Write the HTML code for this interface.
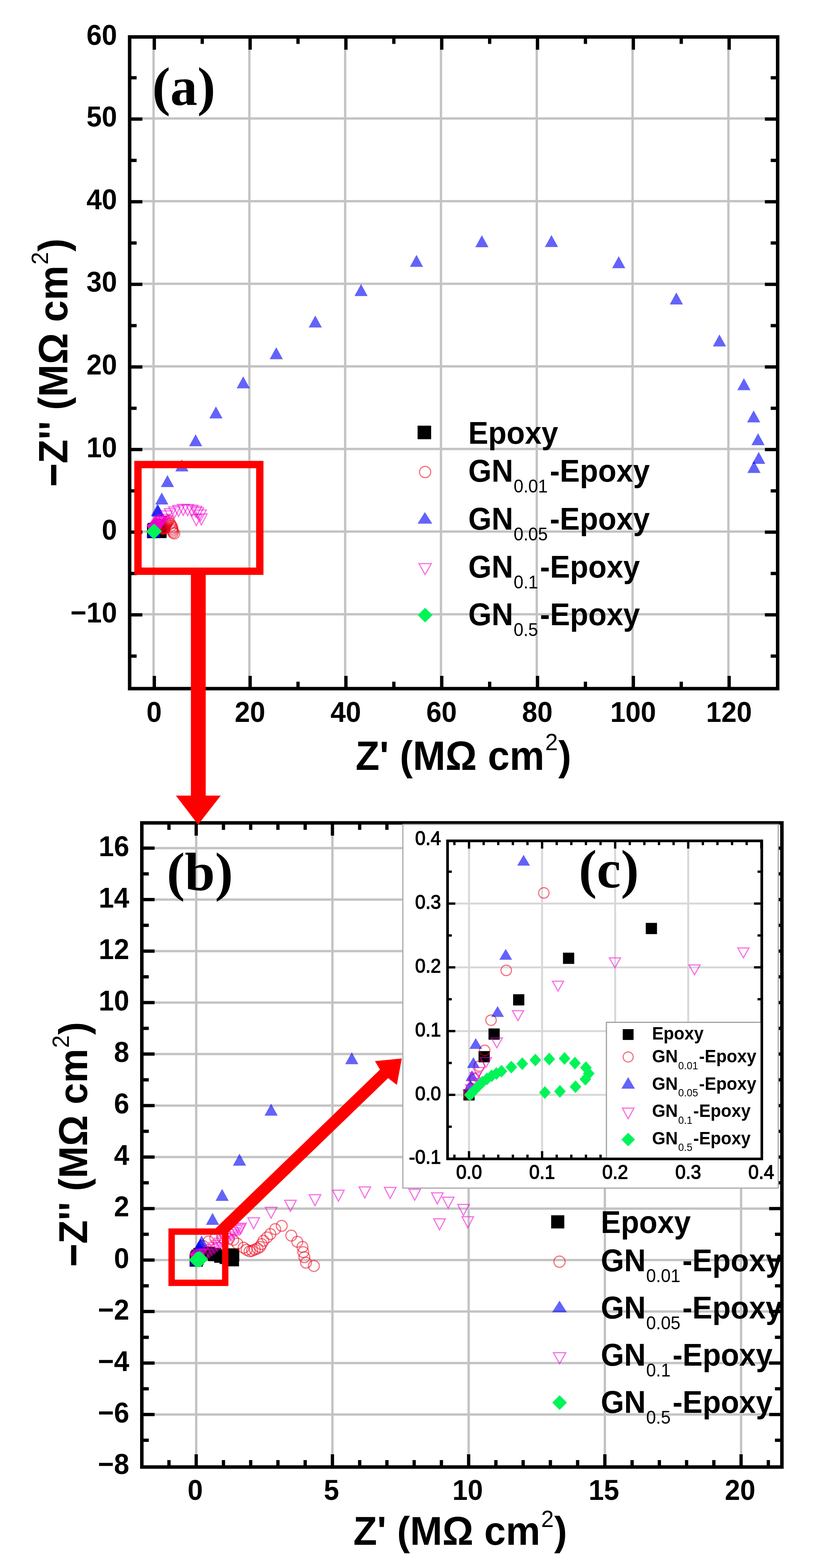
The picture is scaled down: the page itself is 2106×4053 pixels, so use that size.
<!DOCTYPE html><html><head><meta charset="utf-8"><style>html,body{margin:0;padding:0;background:#fff;}svg{display:block}</style></head><body>
<svg width="2106" height="4053" viewBox="0 0 2106 4053" font-family="'Liberation Sans', Arial, sans-serif" font-weight="bold">
<rect width="100%" height="100%" fill="#fff"/>
<defs><clipPath id="ca"><rect x="335" y="95.5" width="1674.5" height="1684.5"/></clipPath>
<clipPath id="cb"><rect x="366.5" y="2127" width="1654.0" height="1665"/></clipPath>
<clipPath id="cbl"><rect x="366.5" y="2127" width="1650.0" height="1665"/></clipPath>
<clipPath id="cbx"><rect x="366.5" y="2127" width="673.0" height="1665"/><rect x="1039.5" y="3069.5" width="981.0" height="722.5"/><rect x="2012.5" y="2127" width="8.0" height="942.5"/></clipPath>
<clipPath id="cc"><rect x="1156.5" y="2173.5" width="812.0" height="822.0"/></clipPath></defs>
<line x1="396.8" y1="95.5" x2="396.8" y2="1780" stroke="#c3c3c3" stroke-width="6"/>
<line x1="644.4" y1="95.5" x2="644.4" y2="1780" stroke="#c3c3c3" stroke-width="6"/>
<line x1="891.9" y1="95.5" x2="891.9" y2="1780" stroke="#c3c3c3" stroke-width="6"/>
<line x1="1139.5" y1="95.5" x2="1139.5" y2="1780" stroke="#c3c3c3" stroke-width="6"/>
<line x1="1387.0" y1="95.5" x2="1387.0" y2="1780" stroke="#c3c3c3" stroke-width="6"/>
<line x1="1634.6" y1="95.5" x2="1634.6" y2="1780" stroke="#c3c3c3" stroke-width="6"/>
<line x1="1882.2" y1="95.5" x2="1882.2" y2="1780" stroke="#c3c3c3" stroke-width="6"/>
<line x1="335" y1="1587.7" x2="2009.5" y2="1587.7" stroke="#c3c3c3" stroke-width="6"/>
<line x1="335" y1="1374.1" x2="2009.5" y2="1374.1" stroke="#c3c3c3" stroke-width="6"/>
<line x1="335" y1="1160.5" x2="2009.5" y2="1160.5" stroke="#c3c3c3" stroke-width="6"/>
<line x1="335" y1="947.0" x2="2009.5" y2="947.0" stroke="#c3c3c3" stroke-width="6"/>
<line x1="335" y1="733.4" x2="2009.5" y2="733.4" stroke="#c3c3c3" stroke-width="6"/>
<line x1="335" y1="519.9" x2="2009.5" y2="519.9" stroke="#c3c3c3" stroke-width="6"/>
<line x1="335" y1="306.3" x2="2009.5" y2="306.3" stroke="#c3c3c3" stroke-width="6"/>
<g clip-path="url(#ca)">
<rect x="379.8" y="1357.1" width="34.0" height="34.0" fill="#000"/>
<rect x="380.1" y="1355.8" width="34.0" height="34.0" fill="#000"/>
<rect x="380.2" y="1355.1" width="34.0" height="34.0" fill="#000"/>
<rect x="380.6" y="1353.9" width="34.0" height="34.0" fill="#000"/>
<rect x="381.5" y="1352.5" width="34.0" height="34.0" fill="#000"/>
<rect x="382.9" y="1351.5" width="34.0" height="34.0" fill="#000"/>
<rect x="385.4" y="1351.8" width="34.0" height="34.0" fill="#000"/>
<rect x="388.2" y="1352.6" width="34.0" height="34.0" fill="#000"/>
<rect x="390.9" y="1353.9" width="34.0" height="34.0" fill="#000"/>
<rect x="393.4" y="1355.0" width="34.0" height="34.0" fill="#000"/>
<rect x="395.5" y="1356.0" width="34.0" height="34.0" fill="#000"/>
<rect x="396.3" y="1356.9" width="34.0" height="34.0" fill="#000"/>
<rect x="396.4" y="1352.8" width="34.0" height="34.0" fill="#000"/>
<circle cx="396.8" cy="1374.1" r="14.0" fill="none" stroke="rgba(235,0,25,0.55)" stroke-width="3.0"/>
<circle cx="396.8" cy="1373.9" r="14.0" fill="none" stroke="rgba(235,0,25,0.55)" stroke-width="3.0"/>
<circle cx="396.9" cy="1373.6" r="14.0" fill="none" stroke="rgba(235,0,25,0.55)" stroke-width="3.0"/>
<circle cx="397.0" cy="1373.1" r="14.0" fill="none" stroke="rgba(235,0,25,0.55)" stroke-width="3.0"/>
<circle cx="397.1" cy="1372.6" r="14.0" fill="none" stroke="rgba(235,0,25,0.55)" stroke-width="3.0"/>
<circle cx="397.2" cy="1371.6" r="14.0" fill="none" stroke="rgba(235,0,25,0.55)" stroke-width="3.0"/>
<circle cx="397.4" cy="1369.9" r="14.0" fill="none" stroke="rgba(235,0,25,0.55)" stroke-width="3.0"/>
<circle cx="398.1" cy="1367.3" r="14.0" fill="none" stroke="rgba(235,0,25,0.55)" stroke-width="3.0"/>
<circle cx="399.9" cy="1362.4" r="14.0" fill="none" stroke="rgba(235,0,25,0.55)" stroke-width="3.0"/>
<circle cx="402.4" cy="1358.7" r="14.0" fill="none" stroke="rgba(235,0,25,0.55)" stroke-width="3.0"/>
<circle cx="405.5" cy="1355.9" r="14.0" fill="none" stroke="rgba(235,0,25,0.55)" stroke-width="3.0"/>
<circle cx="408.6" cy="1355.3" r="14.0" fill="none" stroke="rgba(235,0,25,0.55)" stroke-width="3.0"/>
<circle cx="411.7" cy="1356.4" r="14.0" fill="none" stroke="rgba(235,0,25,0.55)" stroke-width="3.0"/>
<circle cx="413.6" cy="1357.4" r="14.0" fill="none" stroke="rgba(235,0,25,0.55)" stroke-width="3.0"/>
<circle cx="415.5" cy="1360.4" r="14.0" fill="none" stroke="rgba(235,0,25,0.55)" stroke-width="3.0"/>
<circle cx="418.3" cy="1363.8" r="14.0" fill="none" stroke="rgba(235,0,25,0.55)" stroke-width="3.0"/>
<circle cx="419.7" cy="1365.6" r="14.0" fill="none" stroke="rgba(235,0,25,0.55)" stroke-width="3.0"/>
<circle cx="421.1" cy="1366.8" r="14.0" fill="none" stroke="rgba(235,0,25,0.55)" stroke-width="3.0"/>
<circle cx="422.2" cy="1366.4" r="14.0" fill="none" stroke="rgba(235,0,25,0.55)" stroke-width="3.0"/>
<circle cx="423.4" cy="1365.3" r="14.0" fill="none" stroke="rgba(235,0,25,0.55)" stroke-width="3.0"/>
<circle cx="424.7" cy="1364.5" r="14.0" fill="none" stroke="rgba(235,0,25,0.55)" stroke-width="3.0"/>
<circle cx="425.8" cy="1363.2" r="14.0" fill="none" stroke="rgba(235,0,25,0.55)" stroke-width="3.0"/>
<circle cx="426.5" cy="1360.9" r="14.0" fill="none" stroke="rgba(235,0,25,0.55)" stroke-width="3.0"/>
<circle cx="427.4" cy="1358.1" r="14.0" fill="none" stroke="rgba(235,0,25,0.55)" stroke-width="3.0"/>
<circle cx="429.0" cy="1355.3" r="14.0" fill="none" stroke="rgba(235,0,25,0.55)" stroke-width="3.0"/>
<circle cx="430.5" cy="1352.5" r="14.0" fill="none" stroke="rgba(235,0,25,0.55)" stroke-width="3.0"/>
<circle cx="432.7" cy="1348.5" r="14.0" fill="none" stroke="rgba(235,0,25,0.55)" stroke-width="3.0"/>
<circle cx="435.7" cy="1345.7" r="14.0" fill="none" stroke="rgba(235,0,25,0.55)" stroke-width="3.0"/>
<circle cx="440.0" cy="1353.8" r="14.0" fill="none" stroke="rgba(235,0,25,0.55)" stroke-width="3.0"/>
<circle cx="442.7" cy="1358.9" r="14.0" fill="none" stroke="rgba(235,0,25,0.55)" stroke-width="3.0"/>
<circle cx="445.1" cy="1363.2" r="14.0" fill="none" stroke="rgba(235,0,25,0.55)" stroke-width="3.0"/>
<circle cx="445.4" cy="1367.5" r="14.0" fill="none" stroke="rgba(235,0,25,0.55)" stroke-width="3.0"/>
<circle cx="445.9" cy="1371.8" r="14.0" fill="none" stroke="rgba(235,0,25,0.55)" stroke-width="3.0"/>
<circle cx="446.7" cy="1376.2" r="14.0" fill="none" stroke="rgba(235,0,25,0.55)" stroke-width="3.0"/>
<circle cx="450.3" cy="1379.0" r="14.0" fill="none" stroke="rgba(235,0,25,0.55)" stroke-width="3.0"/>
<path d="M396.8 1358.3L413.8 1389.3L379.8 1389.3Z" fill="rgba(0,0,245,0.61)"/>
<path d="M396.8 1358.0L413.8 1389.0L379.8 1389.0Z" fill="rgba(0,0,245,0.61)"/>
<path d="M396.9 1357.5L413.9 1388.5L379.9 1388.5Z" fill="rgba(0,0,245,0.61)"/>
<path d="M396.9 1356.9L413.9 1387.9L379.9 1387.9Z" fill="rgba(0,0,245,0.61)"/>
<path d="M397.3 1355.8L414.3 1386.8L380.3 1386.8Z" fill="rgba(0,0,245,0.61)"/>
<path d="M397.4 1353.9L414.4 1384.9L380.4 1384.9Z" fill="rgba(0,0,245,0.61)"/>
<path d="M397.7 1350.7L414.7 1381.7L380.7 1381.7Z" fill="rgba(0,0,245,0.61)"/>
<path d="M398.0 1347.9L415.0 1378.9L381.0 1378.9Z" fill="rgba(0,0,245,0.61)"/>
<path d="M398.7 1345.8L415.7 1376.8L381.7 1376.8Z" fill="rgba(0,0,245,0.61)"/>
<path d="M399.3 1343.2L416.3 1374.2L382.3 1374.2Z" fill="rgba(0,0,245,0.61)"/>
<path d="M406.9 1302.4L423.9 1333.4L389.9 1333.4Z" fill="rgba(0,0,245,0.61)"/>
<path d="M408.6 1304.6L425.6 1335.6L391.6 1335.6Z" fill="rgba(0,0,245,0.61)"/>
<path d="M418.0 1273.0L435.0 1304.0L401.0 1304.0Z" fill="rgba(0,0,245,0.61)"/>
<path d="M432.7 1228.1L449.7 1259.1L415.7 1259.1Z" fill="rgba(0,0,245,0.61)"/>
<path d="M470.0 1187.5L487.0 1218.5L453.0 1218.5Z" fill="rgba(0,0,245,0.61)"/>
<path d="M505.5 1122.6L522.5 1153.6L488.5 1153.6Z" fill="rgba(0,0,245,0.61)"/>
<path d="M558.0 1050.6L575.0 1081.6L541.0 1081.6Z" fill="rgba(0,0,245,0.61)"/>
<path d="M628.5 972.7L645.5 1003.7L611.5 1003.7Z" fill="rgba(0,0,245,0.61)"/>
<path d="M713.9 897.5L730.9 928.5L696.9 928.5Z" fill="rgba(0,0,245,0.61)"/>
<path d="M814.7 815.5L831.7 846.5L797.7 846.5Z" fill="rgba(0,0,245,0.61)"/>
<path d="M933.0 734.2L950.0 765.2L916.0 765.2Z" fill="rgba(0,0,245,0.61)"/>
<path d="M1076.2 658.8L1093.2 689.8L1059.2 689.8Z" fill="rgba(0,0,245,0.61)"/>
<path d="M1245.2 607.9L1262.2 638.9L1228.2 638.9Z" fill="rgba(0,0,245,0.61)"/>
<path d="M1425.0 607.5L1442.0 638.5L1408.0 638.5Z" fill="rgba(0,0,245,0.61)"/>
<path d="M1598.8 662.2L1615.8 693.2L1581.8 693.2Z" fill="rgba(0,0,245,0.61)"/>
<path d="M1747.7 755.9L1764.7 786.9L1730.7 786.9Z" fill="rgba(0,0,245,0.61)"/>
<path d="M1859.1 864.4L1876.1 895.4L1842.1 895.4Z" fill="rgba(0,0,245,0.61)"/>
<path d="M1922.3 977.4L1939.3 1008.4L1905.3 1008.4Z" fill="rgba(0,0,245,0.61)"/>
<path d="M1947.5 1060.7L1964.5 1091.7L1930.5 1091.7Z" fill="rgba(0,0,245,0.61)"/>
<path d="M1958.8 1119.8L1975.8 1150.8L1941.8 1150.8Z" fill="rgba(0,0,245,0.61)"/>
<path d="M1960.6 1168.1L1977.6 1199.1L1943.6 1199.1Z" fill="rgba(0,0,245,0.61)"/>
<path d="M1948.3 1191.6L1965.3 1222.6L1931.3 1222.6Z" fill="rgba(0,0,245,0.61)"/>
<path d="M381.9 1359.8L411.8 1359.8L396.8 1388.3Z" fill="none" stroke="rgba(240,0,210,0.55)" stroke-width="3.0" stroke-linejoin="miter"/>
<path d="M381.9 1359.7L411.8 1359.7L396.8 1388.2Z" fill="none" stroke="rgba(240,0,210,0.55)" stroke-width="3.0" stroke-linejoin="miter"/>
<path d="M381.9 1359.5L411.8 1359.5L396.9 1388.0Z" fill="none" stroke="rgba(240,0,210,0.55)" stroke-width="3.0" stroke-linejoin="miter"/>
<path d="M382.0 1359.3L411.9 1359.3L396.9 1387.8Z" fill="none" stroke="rgba(240,0,210,0.55)" stroke-width="3.0" stroke-linejoin="miter"/>
<path d="M382.0 1359.1L411.9 1359.1L397.0 1387.6Z" fill="none" stroke="rgba(240,0,210,0.55)" stroke-width="3.0" stroke-linejoin="miter"/>
<path d="M382.1 1358.8L412.0 1358.8L397.1 1387.3Z" fill="none" stroke="rgba(240,0,210,0.55)" stroke-width="3.0" stroke-linejoin="miter"/>
<path d="M382.3 1358.1L412.2 1358.1L397.3 1386.6Z" fill="none" stroke="rgba(240,0,210,0.55)" stroke-width="3.0" stroke-linejoin="miter"/>
<path d="M382.7 1357.2L412.6 1357.2L397.6 1385.7Z" fill="none" stroke="rgba(240,0,210,0.55)" stroke-width="3.0" stroke-linejoin="miter"/>
<path d="M383.4 1356.2L413.3 1356.2L398.3 1384.7Z" fill="none" stroke="rgba(240,0,210,0.55)" stroke-width="3.0" stroke-linejoin="miter"/>
<path d="M384.3 1355.4L414.2 1355.4L399.3 1383.9Z" fill="none" stroke="rgba(240,0,210,0.55)" stroke-width="3.0" stroke-linejoin="miter"/>
<path d="M385.7 1355.7L415.6 1355.7L400.6 1384.2Z" fill="none" stroke="rgba(240,0,210,0.55)" stroke-width="3.0" stroke-linejoin="miter"/>
<path d="M386.5 1355.1L416.4 1355.1L401.4 1383.6Z" fill="none" stroke="rgba(240,0,210,0.55)" stroke-width="3.0" stroke-linejoin="miter"/>
<path d="M387.7 1353.3L417.6 1353.3L402.7 1381.8Z" fill="none" stroke="rgba(240,0,210,0.55)" stroke-width="3.0" stroke-linejoin="miter"/>
<path d="M389.0 1351.6L418.9 1351.6L403.9 1380.1Z" fill="none" stroke="rgba(240,0,210,0.55)" stroke-width="3.0" stroke-linejoin="miter"/>
<path d="M390.2 1349.8L420.1 1349.8L405.2 1378.3Z" fill="none" stroke="rgba(240,0,210,0.55)" stroke-width="3.0" stroke-linejoin="miter"/>
<path d="M391.4 1348.1L421.3 1348.1L406.4 1376.6Z" fill="none" stroke="rgba(240,0,210,0.55)" stroke-width="3.0" stroke-linejoin="miter"/>
<path d="M392.7 1346.3L422.6 1346.3L407.6 1374.8Z" fill="none" stroke="rgba(240,0,210,0.55)" stroke-width="3.0" stroke-linejoin="miter"/>
<path d="M393.9 1344.6L423.8 1344.6L408.9 1373.1Z" fill="none" stroke="rgba(240,0,210,0.55)" stroke-width="3.0" stroke-linejoin="miter"/>
<path d="M395.2 1342.8L425.1 1342.8L410.1 1371.3Z" fill="none" stroke="rgba(240,0,210,0.55)" stroke-width="3.0" stroke-linejoin="miter"/>
<path d="M396.4 1341.1L426.3 1341.1L411.4 1369.6Z" fill="none" stroke="rgba(240,0,210,0.55)" stroke-width="3.0" stroke-linejoin="miter"/>
<path d="M397.6 1339.3L427.5 1339.3L412.6 1367.8Z" fill="none" stroke="rgba(240,0,210,0.55)" stroke-width="3.0" stroke-linejoin="miter"/>
<path d="M398.9 1337.6L428.8 1337.6L413.8 1366.1Z" fill="none" stroke="rgba(240,0,210,0.55)" stroke-width="3.0" stroke-linejoin="miter"/>
<path d="M400.1 1335.8L430.0 1335.8L415.1 1364.3Z" fill="none" stroke="rgba(240,0,210,0.55)" stroke-width="3.0" stroke-linejoin="miter"/>
<path d="M401.4 1334.8L431.3 1334.8L416.3 1363.3Z" fill="none" stroke="rgba(240,0,210,0.55)" stroke-width="3.0" stroke-linejoin="miter"/>
<path d="M402.0 1333.9L431.9 1333.9L417.0 1362.4Z" fill="none" stroke="rgba(240,0,210,0.55)" stroke-width="3.0" stroke-linejoin="miter"/>
<path d="M408.0 1329.4L437.9 1329.4L422.9 1357.9Z" fill="none" stroke="rgba(240,0,210,0.55)" stroke-width="3.0" stroke-linejoin="miter"/>
<path d="M415.9 1320.6L445.8 1320.6L430.8 1349.1Z" fill="none" stroke="rgba(240,0,210,0.55)" stroke-width="3.0" stroke-linejoin="miter"/>
<path d="M424.7 1314.9L454.6 1314.9L439.6 1343.4Z" fill="none" stroke="rgba(240,0,210,0.55)" stroke-width="3.0" stroke-linejoin="miter"/>
<path d="M435.8 1310.2L465.7 1310.2L450.8 1338.7Z" fill="none" stroke="rgba(240,0,210,0.55)" stroke-width="3.0" stroke-linejoin="miter"/>
<path d="M446.5 1306.5L476.4 1306.5L461.4 1335.0Z" fill="none" stroke="rgba(240,0,210,0.55)" stroke-width="3.0" stroke-linejoin="miter"/>
<path d="M458.5 1303.7L488.4 1303.7L473.4 1332.2Z" fill="none" stroke="rgba(240,0,210,0.55)" stroke-width="3.0" stroke-linejoin="miter"/>
<path d="M470.0 1304.2L499.9 1304.2L484.9 1332.7Z" fill="none" stroke="rgba(240,0,210,0.55)" stroke-width="3.0" stroke-linejoin="miter"/>
<path d="M481.1 1305.7L511.0 1305.7L496.1 1334.2Z" fill="none" stroke="rgba(240,0,210,0.55)" stroke-width="3.0" stroke-linejoin="miter"/>
<path d="M491.4 1308.7L521.3 1308.7L506.3 1337.2Z" fill="none" stroke="rgba(240,0,210,0.55)" stroke-width="3.0" stroke-linejoin="miter"/>
<path d="M496.3 1312.3L526.2 1312.3L511.3 1340.8Z" fill="none" stroke="rgba(240,0,210,0.55)" stroke-width="3.0" stroke-linejoin="miter"/>
<path d="M503.3 1318.3L533.2 1318.3L518.2 1346.8Z" fill="none" stroke="rgba(240,0,210,0.55)" stroke-width="3.0" stroke-linejoin="miter"/>
<path d="M505.3 1328.5L535.2 1328.5L520.2 1357.0Z" fill="none" stroke="rgba(240,0,210,0.55)" stroke-width="3.0" stroke-linejoin="miter"/>
<path d="M492.4 1330.2L522.3 1330.2L507.3 1358.7Z" fill="none" stroke="rgba(240,0,210,0.55)" stroke-width="3.0" stroke-linejoin="miter"/>
<path d="M396.8 1355.1L415.8 1374.1L396.8 1393.1L377.8 1374.1Z" fill="#00f458"/>
<path d="M396.8 1355.0L415.8 1374.0L396.8 1393.0L377.8 1374.0Z" fill="#00f458"/>
<path d="M396.9 1354.9L415.9 1373.9L396.9 1392.9L377.9 1373.9Z" fill="#00f458"/>
<path d="M397.0 1354.8L416.0 1373.8L397.0 1392.8L378.0 1373.8Z" fill="#00f458"/>
<path d="M397.0 1354.7L416.0 1373.7L397.0 1392.7L378.0 1373.7Z" fill="#00f458"/>
<path d="M397.1 1354.6L416.1 1373.6L397.1 1392.6L378.1 1373.6Z" fill="#00f458"/>
<path d="M397.2 1354.5L416.2 1373.5L397.2 1392.5L378.2 1373.5Z" fill="#00f458"/>
<path d="M397.3 1354.4L416.3 1373.4L397.3 1392.4L378.3 1373.4Z" fill="#00f458"/>
<path d="M397.3 1354.3L416.3 1373.3L397.3 1392.3L378.3 1373.3Z" fill="#00f458"/>
<path d="M397.5 1354.2L416.5 1373.2L397.5 1392.2L378.5 1373.2Z" fill="#00f458"/>
<path d="M397.7 1354.1L416.7 1373.1L397.7 1392.1L378.7 1373.1Z" fill="#00f458"/>
<path d="M397.9 1353.9L416.9 1372.9L397.9 1391.9L378.9 1372.9Z" fill="#00f458"/>
<path d="M398.2 1353.9L417.2 1372.9L398.2 1391.9L379.2 1372.9Z" fill="#00f458"/>
<path d="M398.4 1353.9L417.4 1372.9L398.4 1391.9L379.4 1372.9Z" fill="#00f458"/>
<path d="M398.6 1354.0L417.6 1373.0L398.6 1392.0L379.6 1373.0Z" fill="#00f458"/>
<path d="M398.8 1354.2L417.8 1373.2L398.8 1392.2L379.8 1373.2Z" fill="#00f458"/>
<path d="M398.8 1354.4L417.8 1373.4L398.8 1392.4L379.8 1373.4Z" fill="#00f458"/>
<path d="M398.8 1354.6L417.8 1373.6L398.8 1392.6L379.8 1373.6Z" fill="#00f458"/>
<path d="M398.6 1354.8L417.6 1373.8L398.6 1392.8L379.6 1373.8Z" fill="#00f458"/>
<path d="M398.3 1355.0L417.3 1374.0L398.3 1393.0L379.3 1374.0Z" fill="#00f458"/>
<path d="M398.1 1355.0L417.1 1374.0L398.1 1393.0L379.1 1374.0Z" fill="#00f458"/>
</g>
<line x1="398.8" y1="1780" x2="398.8" y2="1747" stroke="#000" stroke-width="8.5"/>
<line x1="398.8" y1="95.5" x2="398.8" y2="128.5" stroke="#000" stroke-width="8.5"/>
<line x1="522.6" y1="1780" x2="522.6" y2="1762" stroke="#000" stroke-width="8.5"/>
<line x1="522.6" y1="95.5" x2="522.6" y2="113.5" stroke="#000" stroke-width="8.5"/>
<line x1="646.4" y1="1780" x2="646.4" y2="1747" stroke="#000" stroke-width="8.5"/>
<line x1="646.4" y1="95.5" x2="646.4" y2="128.5" stroke="#000" stroke-width="8.5"/>
<line x1="770.1" y1="1780" x2="770.1" y2="1762" stroke="#000" stroke-width="8.5"/>
<line x1="770.1" y1="95.5" x2="770.1" y2="113.5" stroke="#000" stroke-width="8.5"/>
<line x1="893.9" y1="1780" x2="893.9" y2="1747" stroke="#000" stroke-width="8.5"/>
<line x1="893.9" y1="95.5" x2="893.9" y2="128.5" stroke="#000" stroke-width="8.5"/>
<line x1="1017.7" y1="1780" x2="1017.7" y2="1762" stroke="#000" stroke-width="8.5"/>
<line x1="1017.7" y1="95.5" x2="1017.7" y2="113.5" stroke="#000" stroke-width="8.5"/>
<line x1="1141.5" y1="1780" x2="1141.5" y2="1747" stroke="#000" stroke-width="8.5"/>
<line x1="1141.5" y1="95.5" x2="1141.5" y2="128.5" stroke="#000" stroke-width="8.5"/>
<line x1="1265.3" y1="1780" x2="1265.3" y2="1762" stroke="#000" stroke-width="8.5"/>
<line x1="1265.3" y1="95.5" x2="1265.3" y2="113.5" stroke="#000" stroke-width="8.5"/>
<line x1="1389.0" y1="1780" x2="1389.0" y2="1747" stroke="#000" stroke-width="8.5"/>
<line x1="1389.0" y1="95.5" x2="1389.0" y2="128.5" stroke="#000" stroke-width="8.5"/>
<line x1="1512.8" y1="1780" x2="1512.8" y2="1762" stroke="#000" stroke-width="8.5"/>
<line x1="1512.8" y1="95.5" x2="1512.8" y2="113.5" stroke="#000" stroke-width="8.5"/>
<line x1="1636.6" y1="1780" x2="1636.6" y2="1747" stroke="#000" stroke-width="8.5"/>
<line x1="1636.6" y1="95.5" x2="1636.6" y2="128.5" stroke="#000" stroke-width="8.5"/>
<line x1="1760.4" y1="1780" x2="1760.4" y2="1762" stroke="#000" stroke-width="8.5"/>
<line x1="1760.4" y1="95.5" x2="1760.4" y2="113.5" stroke="#000" stroke-width="8.5"/>
<line x1="1884.2" y1="1780" x2="1884.2" y2="1747" stroke="#000" stroke-width="8.5"/>
<line x1="1884.2" y1="95.5" x2="1884.2" y2="128.5" stroke="#000" stroke-width="8.5"/>
<line x1="335" y1="1695.9" x2="353" y2="1695.9" stroke="#000" stroke-width="8.5"/>
<line x1="2009.5" y1="1695.9" x2="1991.5" y2="1695.9" stroke="#000" stroke-width="8.5"/>
<line x1="335" y1="1589.2" x2="368" y2="1589.2" stroke="#000" stroke-width="8.5"/>
<line x1="2009.5" y1="1589.2" x2="1976.5" y2="1589.2" stroke="#000" stroke-width="8.5"/>
<line x1="335" y1="1482.4" x2="353" y2="1482.4" stroke="#000" stroke-width="8.5"/>
<line x1="2009.5" y1="1482.4" x2="1991.5" y2="1482.4" stroke="#000" stroke-width="8.5"/>
<line x1="335" y1="1375.6" x2="368" y2="1375.6" stroke="#000" stroke-width="8.5"/>
<line x1="2009.5" y1="1375.6" x2="1976.5" y2="1375.6" stroke="#000" stroke-width="8.5"/>
<line x1="335" y1="1268.8" x2="353" y2="1268.8" stroke="#000" stroke-width="8.5"/>
<line x1="2009.5" y1="1268.8" x2="1991.5" y2="1268.8" stroke="#000" stroke-width="8.5"/>
<line x1="335" y1="1162.0" x2="368" y2="1162.0" stroke="#000" stroke-width="8.5"/>
<line x1="2009.5" y1="1162.0" x2="1976.5" y2="1162.0" stroke="#000" stroke-width="8.5"/>
<line x1="335" y1="1055.3" x2="353" y2="1055.3" stroke="#000" stroke-width="8.5"/>
<line x1="2009.5" y1="1055.3" x2="1991.5" y2="1055.3" stroke="#000" stroke-width="8.5"/>
<line x1="335" y1="948.5" x2="368" y2="948.5" stroke="#000" stroke-width="8.5"/>
<line x1="2009.5" y1="948.5" x2="1976.5" y2="948.5" stroke="#000" stroke-width="8.5"/>
<line x1="335" y1="841.7" x2="353" y2="841.7" stroke="#000" stroke-width="8.5"/>
<line x1="2009.5" y1="841.7" x2="1991.5" y2="841.7" stroke="#000" stroke-width="8.5"/>
<line x1="335" y1="734.9" x2="368" y2="734.9" stroke="#000" stroke-width="8.5"/>
<line x1="2009.5" y1="734.9" x2="1976.5" y2="734.9" stroke="#000" stroke-width="8.5"/>
<line x1="335" y1="628.1" x2="353" y2="628.1" stroke="#000" stroke-width="8.5"/>
<line x1="2009.5" y1="628.1" x2="1991.5" y2="628.1" stroke="#000" stroke-width="8.5"/>
<line x1="335" y1="521.4" x2="368" y2="521.4" stroke="#000" stroke-width="8.5"/>
<line x1="2009.5" y1="521.4" x2="1976.5" y2="521.4" stroke="#000" stroke-width="8.5"/>
<line x1="335" y1="414.6" x2="353" y2="414.6" stroke="#000" stroke-width="8.5"/>
<line x1="2009.5" y1="414.6" x2="1991.5" y2="414.6" stroke="#000" stroke-width="8.5"/>
<line x1="335" y1="307.8" x2="368" y2="307.8" stroke="#000" stroke-width="8.5"/>
<line x1="2009.5" y1="307.8" x2="1976.5" y2="307.8" stroke="#000" stroke-width="8.5"/>
<line x1="335" y1="201.0" x2="353" y2="201.0" stroke="#000" stroke-width="8.5"/>
<line x1="2009.5" y1="201.0" x2="1991.5" y2="201.0" stroke="#000" stroke-width="8.5"/>
<rect x="335" y="95.5" width="1674.5" height="1684.5" fill="none" stroke="#000" stroke-width="9"/>
<text transform="translate(398.3 1866.0) scale(1 1.0407)" font-size="71" text-anchor="middle">0</text>
<text transform="translate(645.9 1866.0) scale(1 1.0407)" font-size="71" text-anchor="middle">20</text>
<text transform="translate(893.4 1866.0) scale(1 1.0407)" font-size="71" text-anchor="middle">40</text>
<text transform="translate(1141.0 1866.0) scale(1 1.0407)" font-size="71" text-anchor="middle">60</text>
<text transform="translate(1388.5 1866.0) scale(1 1.0407)" font-size="71" text-anchor="middle">80</text>
<text transform="translate(1636.1 1866.0) scale(1 1.0407)" font-size="71" text-anchor="middle">100</text>
<text transform="translate(1883.7 1866.0) scale(1 1.0407)" font-size="71" text-anchor="middle">120</text>
<text transform="translate(302.5 1608.7) scale(1 1.0407)" font-size="71" text-anchor="end">−10</text>
<text transform="translate(302.5 1395.1) scale(1 1.0407)" font-size="71" text-anchor="end">0</text>
<text transform="translate(302.5 1181.5) scale(1 1.0407)" font-size="71" text-anchor="end">10</text>
<text transform="translate(302.5 968.0) scale(1 1.0407)" font-size="71" text-anchor="end">20</text>
<text transform="translate(302.5 754.4) scale(1 1.0407)" font-size="71" text-anchor="end">30</text>
<text transform="translate(302.5 540.9) scale(1 1.0407)" font-size="71" text-anchor="end">40</text>
<text transform="translate(302.5 327.3) scale(1 1.0407)" font-size="71" text-anchor="end">50</text>
<text transform="translate(302.5 115.5) scale(1 1.0407)" font-size="71" text-anchor="end">60</text>
<text transform="translate(1197.6 1990.0) scale(1 1.0407)" font-size="101.3" text-anchor="middle">Z' (MΩ cm<tspan font-size="59" font-weight="normal" dy="-49" dx="2">2</tspan><tspan dy="49" dx="1">)</tspan></text>
<text transform="translate(174.0 936.9) rotate(-90) scale(1 1.0407)" font-size="101.3" text-anchor="middle"><tspan stroke="#000" stroke-width="2">−</tspan>Z'' (MΩ cm<tspan font-size="59" font-weight="normal" dy="-48" dx="2">2</tspan><tspan dy="48" dx="1">)</tspan></text>
<text x="393.5" y="271" font-family="'Liberation Serif', 'Times New Roman', serif" font-size="140">(a)</text>
<rect x="1079.1" y="1100.3" width="35.0" height="35.0" fill="#000"/>
<text transform="translate(1209.9 1147.0) scale(1 1.0407)" font-size="77.5">Epoxy</text>
<circle cx="1098.5" cy="1220.1" r="14.5" fill="none" stroke="rgba(235,0,25,0.55)" stroke-width="3.0"/>
<text transform="translate(1209.9 1245.0) scale(1 1.0407)" font-size="77.5">GN<tspan font-size="45.5" font-weight="normal" dy="27.29" dx="1">0.01</tspan><tspan dy="-27.29" dx="5">-Epoxy</tspan></text>
<path d="M1098.0 1323.4L1117.0 1353.4L1079.0 1353.4Z" fill="rgba(0,0,245,0.61)"/>
<text transform="translate(1209.9 1369.0) scale(1 1.0407)" font-size="77.5">GN<tspan font-size="45.5" font-weight="normal" dy="27.29" dx="1">0.05</tspan><tspan dy="-27.29" dx="5">-Epoxy</tspan></text>
<path d="M1082.5 1456.8L1114.5 1456.8L1098.5 1485.2Z" fill="none" stroke="rgba(240,0,210,0.55)" stroke-width="3.0" stroke-linejoin="miter"/>
<text transform="translate(1209.9 1493.0) scale(1 1.0407)" font-size="77.5">GN<tspan font-size="45.5" font-weight="normal" dy="27.29" dx="1">0.1</tspan><tspan dy="-27.29" dx="5">-Epoxy</tspan></text>
<path d="M1098.5 1571.0L1117.5 1590.0L1098.5 1609.0L1079.5 1590.0Z" fill="#00f458"/>
<text transform="translate(1209.9 1616.0) scale(1 1.0407)" font-size="77.5">GN<tspan font-size="45.5" font-weight="normal" dy="27.29" dx="1">0.5</tspan><tspan dy="-27.29" dx="5">-Epoxy</tspan></text>
<line x1="507.0" y1="2127" x2="507.0" y2="3792" stroke="#c3c3c3" stroke-width="6"/>
<line x1="859.0" y1="2127" x2="859.0" y2="3792" stroke="#c3c3c3" stroke-width="6"/>
<line x1="1211.0" y1="2127" x2="1211.0" y2="3792" stroke="#c3c3c3" stroke-width="6"/>
<line x1="1563.0" y1="2127" x2="1563.0" y2="3792" stroke="#c3c3c3" stroke-width="6"/>
<line x1="1915.0" y1="2127" x2="1915.0" y2="3792" stroke="#c3c3c3" stroke-width="6"/>
<line x1="366.5" y1="3656.3" x2="2020.5" y2="3656.3" stroke="#c3c3c3" stroke-width="6"/>
<line x1="366.5" y1="3523.2" x2="2020.5" y2="3523.2" stroke="#c3c3c3" stroke-width="6"/>
<line x1="366.5" y1="3390.1" x2="2020.5" y2="3390.1" stroke="#c3c3c3" stroke-width="6"/>
<line x1="366.5" y1="3257.0" x2="2020.5" y2="3257.0" stroke="#c3c3c3" stroke-width="6"/>
<line x1="366.5" y1="3123.9" x2="2020.5" y2="3123.9" stroke="#c3c3c3" stroke-width="6"/>
<line x1="366.5" y1="2990.8" x2="2020.5" y2="2990.8" stroke="#c3c3c3" stroke-width="6"/>
<line x1="366.5" y1="2857.7" x2="2020.5" y2="2857.7" stroke="#c3c3c3" stroke-width="6"/>
<line x1="366.5" y1="2724.6" x2="2020.5" y2="2724.6" stroke="#c3c3c3" stroke-width="6"/>
<line x1="366.5" y1="2591.5" x2="2020.5" y2="2591.5" stroke="#c3c3c3" stroke-width="6"/>
<line x1="366.5" y1="2458.4" x2="2020.5" y2="2458.4" stroke="#c3c3c3" stroke-width="6"/>
<line x1="366.5" y1="2325.3" x2="2020.5" y2="2325.3" stroke="#c3c3c3" stroke-width="6"/>
<line x1="366.5" y1="2192.2" x2="2020.5" y2="2192.2" stroke="#c3c3c3" stroke-width="6"/>
<g clip-path="url(#cbl)">
<rect x="1424.2" y="3141.3" width="34.0" height="34.0" fill="#000"/>
<text transform="translate(1552.5 3187.0) scale(1 1.0407)" font-size="77.5">Epoxy</text>
<circle cx="1445.8" cy="3261.2" r="14.5" fill="none" stroke="rgba(235,0,25,0.55)" stroke-width="3.0"/>
<text transform="translate(1552.5 3286.0) scale(1 1.0407)" font-size="77.5">GN<tspan font-size="45.5" font-weight="normal" dy="27.29" dx="1">0.01</tspan><tspan dy="-27.29" dx="5">-Epoxy</tspan></text>
<path d="M1445.8 3361.9L1464.8 3391.9L1426.8 3391.9Z" fill="rgba(0,0,245,0.61)"/>
<text transform="translate(1552.5 3408.0) scale(1 1.0407)" font-size="77.5">GN<tspan font-size="45.5" font-weight="normal" dy="27.29" dx="1">0.05</tspan><tspan dy="-27.29" dx="5">-Epoxy</tspan></text>
<path d="M1430.0 3496.4L1462.0 3496.4L1446.0 3524.9Z" fill="none" stroke="rgba(240,0,210,0.55)" stroke-width="3.0" stroke-linejoin="miter"/>
<text transform="translate(1552.5 3530.0) scale(1 1.0407)" font-size="77.5">GN<tspan font-size="45.5" font-weight="normal" dy="27.29" dx="1">0.1</tspan><tspan dy="-27.29" dx="5">-Epoxy</tspan></text>
<path d="M1446.0 3606.4L1465.0 3625.4L1446.0 3644.4L1427.0 3625.4Z" fill="#00f458"/>
<text transform="translate(1552.5 3652.0) scale(1 1.0407)" font-size="77.5">GN<tspan font-size="45.5" font-weight="normal" dy="27.29" dx="1">0.5</tspan><tspan dy="-27.29" dx="5">-Epoxy</tspan></text>
</g>
<line x1="436.6" y1="3792" x2="436.6" y2="3774" stroke="#000" stroke-width="8.5"/>
<line x1="436.6" y1="2127" x2="436.6" y2="2145" stroke="#000" stroke-width="8.5"/>
<line x1="507.0" y1="3792" x2="507.0" y2="3759" stroke="#000" stroke-width="8.5"/>
<line x1="507.0" y1="2127" x2="507.0" y2="2160" stroke="#000" stroke-width="8.5"/>
<line x1="577.4" y1="3792" x2="577.4" y2="3774" stroke="#000" stroke-width="8.5"/>
<line x1="577.4" y1="2127" x2="577.4" y2="2145" stroke="#000" stroke-width="8.5"/>
<line x1="647.8" y1="3792" x2="647.8" y2="3774" stroke="#000" stroke-width="8.5"/>
<line x1="647.8" y1="2127" x2="647.8" y2="2145" stroke="#000" stroke-width="8.5"/>
<line x1="718.2" y1="3792" x2="718.2" y2="3774" stroke="#000" stroke-width="8.5"/>
<line x1="718.2" y1="2127" x2="718.2" y2="2145" stroke="#000" stroke-width="8.5"/>
<line x1="788.6" y1="3792" x2="788.6" y2="3774" stroke="#000" stroke-width="8.5"/>
<line x1="788.6" y1="2127" x2="788.6" y2="2145" stroke="#000" stroke-width="8.5"/>
<line x1="859.0" y1="3792" x2="859.0" y2="3759" stroke="#000" stroke-width="8.5"/>
<line x1="859.0" y1="2127" x2="859.0" y2="2160" stroke="#000" stroke-width="8.5"/>
<line x1="929.4" y1="3792" x2="929.4" y2="3774" stroke="#000" stroke-width="8.5"/>
<line x1="929.4" y1="2127" x2="929.4" y2="2145" stroke="#000" stroke-width="8.5"/>
<line x1="999.8" y1="3792" x2="999.8" y2="3774" stroke="#000" stroke-width="8.5"/>
<line x1="999.8" y1="2127" x2="999.8" y2="2145" stroke="#000" stroke-width="8.5"/>
<line x1="1070.2" y1="3792" x2="1070.2" y2="3774" stroke="#000" stroke-width="8.5"/>
<line x1="1070.2" y1="2127" x2="1070.2" y2="2145" stroke="#000" stroke-width="8.5"/>
<line x1="1140.6" y1="3792" x2="1140.6" y2="3774" stroke="#000" stroke-width="8.5"/>
<line x1="1140.6" y1="2127" x2="1140.6" y2="2145" stroke="#000" stroke-width="8.5"/>
<line x1="1211.0" y1="3792" x2="1211.0" y2="3759" stroke="#000" stroke-width="8.5"/>
<line x1="1211.0" y1="2127" x2="1211.0" y2="2160" stroke="#000" stroke-width="8.5"/>
<line x1="1281.4" y1="3792" x2="1281.4" y2="3774" stroke="#000" stroke-width="8.5"/>
<line x1="1281.4" y1="2127" x2="1281.4" y2="2145" stroke="#000" stroke-width="8.5"/>
<line x1="1351.8" y1="3792" x2="1351.8" y2="3774" stroke="#000" stroke-width="8.5"/>
<line x1="1351.8" y1="2127" x2="1351.8" y2="2145" stroke="#000" stroke-width="8.5"/>
<line x1="1422.2" y1="3792" x2="1422.2" y2="3774" stroke="#000" stroke-width="8.5"/>
<line x1="1422.2" y1="2127" x2="1422.2" y2="2145" stroke="#000" stroke-width="8.5"/>
<line x1="1492.6" y1="3792" x2="1492.6" y2="3774" stroke="#000" stroke-width="8.5"/>
<line x1="1492.6" y1="2127" x2="1492.6" y2="2145" stroke="#000" stroke-width="8.5"/>
<line x1="1563.0" y1="3792" x2="1563.0" y2="3759" stroke="#000" stroke-width="8.5"/>
<line x1="1563.0" y1="2127" x2="1563.0" y2="2160" stroke="#000" stroke-width="8.5"/>
<line x1="1633.4" y1="3792" x2="1633.4" y2="3774" stroke="#000" stroke-width="8.5"/>
<line x1="1633.4" y1="2127" x2="1633.4" y2="2145" stroke="#000" stroke-width="8.5"/>
<line x1="1703.8" y1="3792" x2="1703.8" y2="3774" stroke="#000" stroke-width="8.5"/>
<line x1="1703.8" y1="2127" x2="1703.8" y2="2145" stroke="#000" stroke-width="8.5"/>
<line x1="1774.2" y1="3792" x2="1774.2" y2="3774" stroke="#000" stroke-width="8.5"/>
<line x1="1774.2" y1="2127" x2="1774.2" y2="2145" stroke="#000" stroke-width="8.5"/>
<line x1="1844.6" y1="3792" x2="1844.6" y2="3774" stroke="#000" stroke-width="8.5"/>
<line x1="1844.6" y1="2127" x2="1844.6" y2="2145" stroke="#000" stroke-width="8.5"/>
<line x1="1915.0" y1="3792" x2="1915.0" y2="3759" stroke="#000" stroke-width="8.5"/>
<line x1="1915.0" y1="2127" x2="1915.0" y2="2160" stroke="#000" stroke-width="8.5"/>
<line x1="1985.4" y1="3792" x2="1985.4" y2="3774" stroke="#000" stroke-width="8.5"/>
<line x1="1985.4" y1="2127" x2="1985.4" y2="2145" stroke="#000" stroke-width="8.5"/>
<line x1="366.5" y1="3722.8" x2="384.5" y2="3722.8" stroke="#000" stroke-width="8.5"/>
<line x1="2020.5" y1="3722.8" x2="2002.5" y2="3722.8" stroke="#000" stroke-width="8.5"/>
<line x1="366.5" y1="3656.3" x2="399.5" y2="3656.3" stroke="#000" stroke-width="8.5"/>
<line x1="2020.5" y1="3656.3" x2="1987.5" y2="3656.3" stroke="#000" stroke-width="8.5"/>
<line x1="366.5" y1="3589.8" x2="384.5" y2="3589.8" stroke="#000" stroke-width="8.5"/>
<line x1="2020.5" y1="3589.8" x2="2002.5" y2="3589.8" stroke="#000" stroke-width="8.5"/>
<line x1="366.5" y1="3523.2" x2="399.5" y2="3523.2" stroke="#000" stroke-width="8.5"/>
<line x1="2020.5" y1="3523.2" x2="1987.5" y2="3523.2" stroke="#000" stroke-width="8.5"/>
<line x1="366.5" y1="3456.7" x2="384.5" y2="3456.7" stroke="#000" stroke-width="8.5"/>
<line x1="2020.5" y1="3456.7" x2="2002.5" y2="3456.7" stroke="#000" stroke-width="8.5"/>
<line x1="366.5" y1="3390.1" x2="399.5" y2="3390.1" stroke="#000" stroke-width="8.5"/>
<line x1="2020.5" y1="3390.1" x2="1987.5" y2="3390.1" stroke="#000" stroke-width="8.5"/>
<line x1="366.5" y1="3323.6" x2="384.5" y2="3323.6" stroke="#000" stroke-width="8.5"/>
<line x1="2020.5" y1="3323.6" x2="2002.5" y2="3323.6" stroke="#000" stroke-width="8.5"/>
<line x1="366.5" y1="3257.0" x2="399.5" y2="3257.0" stroke="#000" stroke-width="8.5"/>
<line x1="2020.5" y1="3257.0" x2="1987.5" y2="3257.0" stroke="#000" stroke-width="8.5"/>
<line x1="366.5" y1="3190.4" x2="384.5" y2="3190.4" stroke="#000" stroke-width="8.5"/>
<line x1="2020.5" y1="3190.4" x2="2002.5" y2="3190.4" stroke="#000" stroke-width="8.5"/>
<line x1="366.5" y1="3123.9" x2="399.5" y2="3123.9" stroke="#000" stroke-width="8.5"/>
<line x1="2020.5" y1="3123.9" x2="1987.5" y2="3123.9" stroke="#000" stroke-width="8.5"/>
<line x1="366.5" y1="3057.3" x2="384.5" y2="3057.3" stroke="#000" stroke-width="8.5"/>
<line x1="2020.5" y1="3057.3" x2="2002.5" y2="3057.3" stroke="#000" stroke-width="8.5"/>
<line x1="366.5" y1="2990.8" x2="399.5" y2="2990.8" stroke="#000" stroke-width="8.5"/>
<line x1="2020.5" y1="2990.8" x2="1987.5" y2="2990.8" stroke="#000" stroke-width="8.5"/>
<line x1="366.5" y1="2924.2" x2="384.5" y2="2924.2" stroke="#000" stroke-width="8.5"/>
<line x1="2020.5" y1="2924.2" x2="2002.5" y2="2924.2" stroke="#000" stroke-width="8.5"/>
<line x1="366.5" y1="2857.7" x2="399.5" y2="2857.7" stroke="#000" stroke-width="8.5"/>
<line x1="2020.5" y1="2857.7" x2="1987.5" y2="2857.7" stroke="#000" stroke-width="8.5"/>
<line x1="366.5" y1="2791.2" x2="384.5" y2="2791.2" stroke="#000" stroke-width="8.5"/>
<line x1="2020.5" y1="2791.2" x2="2002.5" y2="2791.2" stroke="#000" stroke-width="8.5"/>
<line x1="366.5" y1="2724.6" x2="399.5" y2="2724.6" stroke="#000" stroke-width="8.5"/>
<line x1="2020.5" y1="2724.6" x2="1987.5" y2="2724.6" stroke="#000" stroke-width="8.5"/>
<line x1="366.5" y1="2658.1" x2="384.5" y2="2658.1" stroke="#000" stroke-width="8.5"/>
<line x1="2020.5" y1="2658.1" x2="2002.5" y2="2658.1" stroke="#000" stroke-width="8.5"/>
<line x1="366.5" y1="2591.5" x2="399.5" y2="2591.5" stroke="#000" stroke-width="8.5"/>
<line x1="2020.5" y1="2591.5" x2="1987.5" y2="2591.5" stroke="#000" stroke-width="8.5"/>
<line x1="366.5" y1="2524.9" x2="384.5" y2="2524.9" stroke="#000" stroke-width="8.5"/>
<line x1="2020.5" y1="2524.9" x2="2002.5" y2="2524.9" stroke="#000" stroke-width="8.5"/>
<line x1="366.5" y1="2458.4" x2="399.5" y2="2458.4" stroke="#000" stroke-width="8.5"/>
<line x1="2020.5" y1="2458.4" x2="1987.5" y2="2458.4" stroke="#000" stroke-width="8.5"/>
<line x1="366.5" y1="2391.8" x2="384.5" y2="2391.8" stroke="#000" stroke-width="8.5"/>
<line x1="2020.5" y1="2391.8" x2="2002.5" y2="2391.8" stroke="#000" stroke-width="8.5"/>
<line x1="366.5" y1="2325.3" x2="399.5" y2="2325.3" stroke="#000" stroke-width="8.5"/>
<line x1="2020.5" y1="2325.3" x2="1987.5" y2="2325.3" stroke="#000" stroke-width="8.5"/>
<line x1="366.5" y1="2258.8" x2="384.5" y2="2258.8" stroke="#000" stroke-width="8.5"/>
<line x1="2020.5" y1="2258.8" x2="2002.5" y2="2258.8" stroke="#000" stroke-width="8.5"/>
<line x1="366.5" y1="2192.2" x2="399.5" y2="2192.2" stroke="#000" stroke-width="8.5"/>
<line x1="2020.5" y1="2192.2" x2="1987.5" y2="2192.2" stroke="#000" stroke-width="8.5"/>
<rect x="366.5" y="2127" width="1654.0" height="1665" fill="none" stroke="#000" stroke-width="9"/>
<text transform="translate(504.5 3877.0) scale(1 1.0407)" font-size="71" text-anchor="middle">0</text>
<text transform="translate(856.5 3877.0) scale(1 1.0407)" font-size="71" text-anchor="middle">5</text>
<text transform="translate(1208.5 3877.0) scale(1 1.0407)" font-size="71" text-anchor="middle">10</text>
<text transform="translate(1560.5 3877.0) scale(1 1.0407)" font-size="71" text-anchor="middle">15</text>
<text transform="translate(1912.5 3877.0) scale(1 1.0407)" font-size="71" text-anchor="middle">20</text>
<text transform="translate(334.0 3809.9) scale(1 1.0407)" font-size="71" text-anchor="end">−8</text>
<text transform="translate(334.0 3676.8) scale(1 1.0407)" font-size="71" text-anchor="end">−6</text>
<text transform="translate(334.0 3543.7) scale(1 1.0407)" font-size="71" text-anchor="end">−4</text>
<text transform="translate(334.0 3410.6) scale(1 1.0407)" font-size="71" text-anchor="end">−2</text>
<text transform="translate(334.0 3277.5) scale(1 1.0407)" font-size="71" text-anchor="end">0</text>
<text transform="translate(334.0 3144.4) scale(1 1.0407)" font-size="71" text-anchor="end">2</text>
<text transform="translate(334.0 3011.3) scale(1 1.0407)" font-size="71" text-anchor="end">4</text>
<text transform="translate(334.0 2878.2) scale(1 1.0407)" font-size="71" text-anchor="end">6</text>
<text transform="translate(334.0 2745.1) scale(1 1.0407)" font-size="71" text-anchor="end">8</text>
<text transform="translate(334.0 2612.0) scale(1 1.0407)" font-size="71" text-anchor="end">10</text>
<text transform="translate(334.0 2478.9) scale(1 1.0407)" font-size="71" text-anchor="end">12</text>
<text transform="translate(334.0 2345.8) scale(1 1.0407)" font-size="71" text-anchor="end">14</text>
<text transform="translate(334.0 2212.7) scale(1 1.0407)" font-size="71" text-anchor="end">16</text>
<text transform="translate(1189.3 3992.8) scale(1 1.0407)" font-size="100.3" text-anchor="middle">Z' (MΩ cm<tspan font-size="59" font-weight="normal" dy="-44" dx="2">2</tspan><tspan dy="44" dx="1">)</tspan></text>
<text transform="translate(224.8 2957.5) rotate(-90) scale(1 1.0407)" font-size="99.8" text-anchor="middle"><tspan stroke="#000" stroke-width="2">−</tspan>Z'' (MΩ cm<tspan font-size="59" font-weight="normal" dy="-45" dx="2">2</tspan><tspan dy="45" dx="1">)</tspan></text>
<text x="431" y="2301" font-family="'Liberation Serif', 'Times New Roman', serif" font-size="140">(b)</text>
<rect x="1041" y="2131" width="970" height="940" fill="#fff" stroke="#a8a8a8" stroke-width="3"/>
<line x1="1212.0" y1="2173.5" x2="1212.0" y2="2995.5" stroke="#d8d8d8" stroke-width="5"/>
<line x1="1400.8" y1="2173.5" x2="1400.8" y2="2995.5" stroke="#d8d8d8" stroke-width="5"/>
<line x1="1589.6" y1="2173.5" x2="1589.6" y2="2995.5" stroke="#d8d8d8" stroke-width="5"/>
<line x1="1778.4" y1="2173.5" x2="1778.4" y2="2995.5" stroke="#d8d8d8" stroke-width="5"/>
<line x1="1967.2" y1="2173.5" x2="1967.2" y2="2995.5" stroke="#d8d8d8" stroke-width="5"/>
<line x1="1156.5" y1="2994.8" x2="1968.5" y2="2994.8" stroke="#d8d8d8" stroke-width="5"/>
<line x1="1156.5" y1="2830.0" x2="1968.5" y2="2830.0" stroke="#d8d8d8" stroke-width="5"/>
<line x1="1156.5" y1="2665.2" x2="1968.5" y2="2665.2" stroke="#d8d8d8" stroke-width="5"/>
<line x1="1156.5" y1="2500.4" x2="1968.5" y2="2500.4" stroke="#d8d8d8" stroke-width="5"/>
<line x1="1156.5" y1="2335.6" x2="1968.5" y2="2335.6" stroke="#d8d8d8" stroke-width="5"/>
<g clip-path="url(#cc)">
<rect x="1197.5" y="2815.5" width="29.0" height="29.0" fill="#000"/>
<rect x="1236.6" y="2716.9" width="29.0" height="29.0" fill="#000"/>
<rect x="1262.3" y="2658.4" width="29.0" height="29.0" fill="#000"/>
<rect x="1325.9" y="2569.9" width="29.0" height="29.0" fill="#000"/>
<rect x="1454.8" y="2462.5" width="29.0" height="29.0" fill="#000"/>
<rect x="1668.7" y="2385.5" width="29.0" height="29.0" fill="#000"/>
<rect x="2047.1" y="2403.5" width="29.0" height="29.0" fill="#000"/>
<rect x="2481.3" y="2469.4" width="29.0" height="29.0" fill="#000"/>
<rect x="2896.7" y="2568.3" width="29.0" height="29.0" fill="#000"/>
<rect x="3274.3" y="2650.7" width="29.0" height="29.0" fill="#000"/>
<rect x="3595.3" y="2733.1" width="29.0" height="29.0" fill="#000"/>
<rect x="3708.5" y="2799.0" width="29.0" height="29.0" fill="#000"/>
<rect x="3727.4" y="2485.9" width="29.0" height="29.0" fill="#000"/>
<circle cx="1212.0" cy="2830.0" r="13.5" fill="none" stroke="rgba(235,0,25,0.55)" stroke-width="3.0"/>
<circle cx="1217.7" cy="2813.5" r="13.5" fill="none" stroke="rgba(235,0,25,0.55)" stroke-width="3.0"/>
<circle cx="1227.1" cy="2788.8" r="13.5" fill="none" stroke="rgba(235,0,25,0.55)" stroke-width="3.0"/>
<circle cx="1238.4" cy="2755.8" r="13.5" fill="none" stroke="rgba(235,0,25,0.55)" stroke-width="3.0"/>
<circle cx="1252.6" cy="2715.0" r="13.5" fill="none" stroke="rgba(235,0,25,0.55)" stroke-width="3.0"/>
<circle cx="1268.8" cy="2636.9" r="13.5" fill="none" stroke="rgba(235,0,25,0.55)" stroke-width="3.0"/>
<circle cx="1308.1" cy="2508.3" r="13.5" fill="none" stroke="rgba(235,0,25,0.55)" stroke-width="3.0"/>
<circle cx="1405.3" cy="2308.1" r="13.5" fill="none" stroke="rgba(235,0,25,0.55)" stroke-width="3.0"/>
<circle cx="1684.0" cy="1923.6" r="13.5" fill="none" stroke="rgba(235,0,25,0.55)" stroke-width="3.0"/>
<circle cx="2061.6" cy="1643.4" r="13.5" fill="none" stroke="rgba(235,0,25,0.55)" stroke-width="3.0"/>
<circle cx="2533.6" cy="1429.2" r="13.5" fill="none" stroke="rgba(235,0,25,0.55)" stroke-width="3.0"/>
<circle cx="3005.6" cy="1379.8" r="13.5" fill="none" stroke="rgba(235,0,25,0.55)" stroke-width="3.0"/>
<circle cx="3477.6" cy="1462.2" r="13.5" fill="none" stroke="rgba(235,0,25,0.55)" stroke-width="3.0"/>
<circle cx="3779.7" cy="1544.6" r="13.5" fill="none" stroke="rgba(235,0,25,0.55)" stroke-width="3.0"/>
<circle cx="4062.9" cy="1775.3" r="13.5" fill="none" stroke="rgba(235,0,25,0.55)" stroke-width="3.0"/>
<circle cx="4497.1" cy="2039.0" r="13.5" fill="none" stroke="rgba(235,0,25,0.55)" stroke-width="3.0"/>
<circle cx="4704.8" cy="2170.8" r="13.5" fill="none" stroke="rgba(235,0,25,0.55)" stroke-width="3.0"/>
<circle cx="4912.5" cy="2269.7" r="13.5" fill="none" stroke="rgba(235,0,25,0.55)" stroke-width="3.0"/>
<circle cx="5082.4" cy="2236.7" r="13.5" fill="none" stroke="rgba(235,0,25,0.55)" stroke-width="3.0"/>
<circle cx="5271.2" cy="2154.3" r="13.5" fill="none" stroke="rgba(235,0,25,0.55)" stroke-width="3.0"/>
<circle cx="5460.0" cy="2088.4" r="13.5" fill="none" stroke="rgba(235,0,25,0.55)" stroke-width="3.0"/>
<circle cx="5629.9" cy="1989.5" r="13.5" fill="none" stroke="rgba(235,0,25,0.55)" stroke-width="3.0"/>
<circle cx="5743.2" cy="1808.2" r="13.5" fill="none" stroke="rgba(235,0,25,0.55)" stroke-width="3.0"/>
<circle cx="5875.4" cy="1594.0" r="13.5" fill="none" stroke="rgba(235,0,25,0.55)" stroke-width="3.0"/>
<circle cx="6120.8" cy="1379.8" r="13.5" fill="none" stroke="rgba(235,0,25,0.55)" stroke-width="3.0"/>
<circle cx="6347.4" cy="1165.5" r="13.5" fill="none" stroke="rgba(235,0,25,0.55)" stroke-width="3.0"/>
<circle cx="6687.2" cy="852.4" r="13.5" fill="none" stroke="rgba(235,0,25,0.55)" stroke-width="3.0"/>
<circle cx="7140.3" cy="638.2" r="13.5" fill="none" stroke="rgba(235,0,25,0.55)" stroke-width="3.0"/>
<circle cx="7801.1" cy="1264.4" r="13.5" fill="none" stroke="rgba(235,0,25,0.55)" stroke-width="3.0"/>
<circle cx="8216.5" cy="1659.9" r="13.5" fill="none" stroke="rgba(235,0,25,0.55)" stroke-width="3.0"/>
<circle cx="8575.2" cy="1989.5" r="13.5" fill="none" stroke="rgba(235,0,25,0.55)" stroke-width="3.0"/>
<circle cx="8631.8" cy="2319.1" r="13.5" fill="none" stroke="rgba(235,0,25,0.55)" stroke-width="3.0"/>
<circle cx="8707.4" cy="2648.7" r="13.5" fill="none" stroke="rgba(235,0,25,0.55)" stroke-width="3.0"/>
<circle cx="8820.6" cy="2994.8" r="13.5" fill="none" stroke="rgba(235,0,25,0.55)" stroke-width="3.0"/>
<circle cx="9368.2" cy="3209.0" r="13.5" fill="none" stroke="rgba(235,0,25,0.55)" stroke-width="3.0"/>
<path d="M1215.8 2791.3L1232.3 2819.3L1199.3 2819.3Z" fill="rgba(0,0,245,0.61)"/>
<path d="M1219.6 2766.6L1236.1 2794.6L1203.1 2794.6Z" fill="rgba(0,0,245,0.61)"/>
<path d="M1223.3 2732.4L1239.8 2760.4L1206.8 2760.4Z" fill="rgba(0,0,245,0.61)"/>
<path d="M1229.4 2683.2L1245.9 2711.2L1212.9 2711.2Z" fill="rgba(0,0,245,0.61)"/>
<path d="M1285.8 2600.4L1302.3 2628.4L1269.3 2628.4Z" fill="rgba(0,0,245,0.61)"/>
<path d="M1306.8 2452.8L1323.3 2480.8L1290.3 2480.8Z" fill="rgba(0,0,245,0.61)"/>
<path d="M1353.0 2209.5L1369.5 2237.5L1336.5 2237.5Z" fill="rgba(0,0,245,0.61)"/>
<path d="M1400.8 1992.0L1417.3 2020.0L1384.3 2020.0Z" fill="rgba(0,0,245,0.61)"/>
<path d="M1495.2 1827.2L1511.7 1855.2L1478.7 1855.2Z" fill="rgba(0,0,245,0.61)"/>
<path d="M1589.6 1629.4L1606.1 1657.4L1573.1 1657.4Z" fill="rgba(0,0,245,0.61)"/>
<path d="M2344.8 179.2L2361.3 207.2L2328.3 207.2Z" fill="rgba(0,0,245,0.61)"/>
<path d="M3005.6 -1353.4L3022.1 -1325.4L2989.1 -1325.4Z" fill="rgba(0,0,245,0.61)"/>
<path d="M4213.9 -3611.2L4230.4 -3583.2L4197.4 -3583.2Z" fill="rgba(0,0,245,0.61)"/>
<path d="M6404.0 -6808.3L6420.5 -6780.3L6387.5 -6780.3Z" fill="rgba(0,0,245,0.61)"/>
<path d="M11992.5 -10104.3L12009.0 -10076.3L11976.0 -10076.3Z" fill="rgba(0,0,245,0.61)"/>
<path d="M17788.6 -15394.4L17805.1 -15366.4L17772.1 -15366.4Z" fill="rgba(0,0,245,0.61)"/>
<path d="M25793.8 -20948.2L25810.3 -20920.2L25777.3 -20920.2Z" fill="rgba(0,0,245,0.61)"/>
<path d="M36555.4 -26963.4L36571.9 -26935.4L36538.9 -26935.4Z" fill="rgba(0,0,245,0.61)"/>
<path d="M49582.6 -32764.3L49599.1 -32736.3L49566.1 -32736.3Z" fill="rgba(0,0,245,0.61)"/>
<path d="M64950.9 -39092.6L64967.4 -39064.6L64934.4 -39064.6Z" fill="rgba(0,0,245,0.61)"/>
<path d="M83000.2 -45371.5L83016.7 -45343.5L82983.7 -45343.5Z" fill="rgba(0,0,245,0.61)"/>
<path d="M104844.3 -51189.0L104860.8 -51161.0L104827.8 -51161.0Z" fill="rgba(0,0,245,0.61)"/>
<path d="M130615.5 -55111.2L130632.0 -55083.2L130599.0 -55083.2Z" fill="rgba(0,0,245,0.61)"/>
<path d="M158048.2 -55144.2L158064.7 -55116.2L158031.7 -55116.2Z" fill="rgba(0,0,245,0.61)"/>
<path d="M184555.7 -50925.3L184572.2 -50897.3L184539.2 -50897.3Z" fill="rgba(0,0,245,0.61)"/>
<path d="M207268.3 -43690.6L207284.8 -43662.6L207251.8 -43662.6Z" fill="rgba(0,0,245,0.61)"/>
<path d="M224260.3 -35318.7L224276.8 -35290.7L224243.8 -35290.7Z" fill="rgba(0,0,245,0.61)"/>
<path d="M233889.1 -26600.8L233905.6 -26572.8L233872.6 -26572.8Z" fill="rgba(0,0,245,0.61)"/>
<path d="M237740.6 -20173.6L237757.1 -20145.6L237724.1 -20145.6Z" fill="rgba(0,0,245,0.61)"/>
<path d="M239458.7 -15608.6L239475.2 -15580.6L239442.2 -15580.6Z" fill="rgba(0,0,245,0.61)"/>
<path d="M239741.9 -11884.2L239758.4 -11856.2L239725.4 -11856.2Z" fill="rgba(0,0,245,0.61)"/>
<path d="M237853.9 -10071.4L237870.4 -10043.4L237837.4 -10043.4Z" fill="rgba(0,0,245,0.61)"/>
<path d="M1197.5 2817.2L1226.5 2817.2L1212.0 2842.8Z" fill="none" stroke="rgba(240,0,210,0.55)" stroke-width="3.0" stroke-linejoin="miter"/>
<path d="M1203.2 2804.1L1232.1 2804.1L1217.7 2829.6Z" fill="none" stroke="rgba(240,0,210,0.55)" stroke-width="3.0" stroke-linejoin="miter"/>
<path d="M1208.9 2787.6L1237.8 2787.6L1223.3 2813.1Z" fill="none" stroke="rgba(240,0,210,0.55)" stroke-width="3.0" stroke-linejoin="miter"/>
<path d="M1214.5 2772.8L1243.4 2772.8L1229.0 2798.3Z" fill="none" stroke="rgba(240,0,210,0.55)" stroke-width="3.0" stroke-linejoin="miter"/>
<path d="M1222.1 2759.6L1251.0 2759.6L1236.5 2785.1Z" fill="none" stroke="rgba(240,0,210,0.55)" stroke-width="3.0" stroke-linejoin="miter"/>
<path d="M1241.2 2733.7L1270.1 2733.7L1255.6 2759.2Z" fill="none" stroke="rgba(240,0,210,0.55)" stroke-width="3.0" stroke-linejoin="miter"/>
<path d="M1269.5 2682.8L1298.4 2682.8L1283.9 2708.3Z" fill="none" stroke="rgba(240,0,210,0.55)" stroke-width="3.0" stroke-linejoin="miter"/>
<path d="M1324.0 2612.4L1352.9 2612.4L1338.5 2637.9Z" fill="none" stroke="rgba(240,0,210,0.55)" stroke-width="3.0" stroke-linejoin="miter"/>
<path d="M1427.5 2536.3L1456.4 2536.3L1442.0 2561.8Z" fill="none" stroke="rgba(240,0,210,0.55)" stroke-width="3.0" stroke-linejoin="miter"/>
<path d="M1574.6 2476.1L1603.5 2476.1L1589.0 2501.6Z" fill="none" stroke="rgba(240,0,210,0.55)" stroke-width="3.0" stroke-linejoin="miter"/>
<path d="M1780.2 2494.2L1809.1 2494.2L1794.6 2519.7Z" fill="none" stroke="rgba(240,0,210,0.55)" stroke-width="3.0" stroke-linejoin="miter"/>
<path d="M1906.5 2450.2L1935.4 2450.2L1920.9 2475.7Z" fill="none" stroke="rgba(240,0,210,0.55)" stroke-width="3.0" stroke-linejoin="miter"/>
<path d="M2095.3 2315.1L2124.2 2315.1L2109.7 2340.6Z" fill="none" stroke="rgba(240,0,210,0.55)" stroke-width="3.0" stroke-linejoin="miter"/>
<path d="M2284.1 2180.0L2313.0 2180.0L2298.5 2205.5Z" fill="none" stroke="rgba(240,0,210,0.55)" stroke-width="3.0" stroke-linejoin="miter"/>
<path d="M2472.9 2044.8L2501.8 2044.8L2487.3 2070.3Z" fill="none" stroke="rgba(240,0,210,0.55)" stroke-width="3.0" stroke-linejoin="miter"/>
<path d="M2661.7 1909.7L2690.6 1909.7L2676.1 1935.2Z" fill="none" stroke="rgba(240,0,210,0.55)" stroke-width="3.0" stroke-linejoin="miter"/>
<path d="M2850.5 1774.6L2879.4 1774.6L2864.9 1800.1Z" fill="none" stroke="rgba(240,0,210,0.55)" stroke-width="3.0" stroke-linejoin="miter"/>
<path d="M3039.3 1639.4L3068.2 1639.4L3053.7 1664.9Z" fill="none" stroke="rgba(240,0,210,0.55)" stroke-width="3.0" stroke-linejoin="miter"/>
<path d="M3228.1 1504.3L3257.0 1504.3L3242.5 1529.8Z" fill="none" stroke="rgba(240,0,210,0.55)" stroke-width="3.0" stroke-linejoin="miter"/>
<path d="M3416.9 1369.2L3445.8 1369.2L3431.3 1394.7Z" fill="none" stroke="rgba(240,0,210,0.55)" stroke-width="3.0" stroke-linejoin="miter"/>
<path d="M3605.7 1234.0L3634.6 1234.0L3620.1 1259.5Z" fill="none" stroke="rgba(240,0,210,0.55)" stroke-width="3.0" stroke-linejoin="miter"/>
<path d="M3794.5 1098.9L3823.4 1098.9L3808.9 1124.4Z" fill="none" stroke="rgba(240,0,210,0.55)" stroke-width="3.0" stroke-linejoin="miter"/>
<path d="M3983.3 963.7L4012.2 963.7L3997.7 989.2Z" fill="none" stroke="rgba(240,0,210,0.55)" stroke-width="3.0" stroke-linejoin="miter"/>
<path d="M4172.1 883.0L4201.0 883.0L4186.5 908.5Z" fill="none" stroke="rgba(240,0,210,0.55)" stroke-width="3.0" stroke-linejoin="miter"/>
<path d="M4275.0 811.6L4303.9 811.6L4289.4 837.1Z" fill="none" stroke="rgba(240,0,210,0.55)" stroke-width="3.0" stroke-linejoin="miter"/>
<path d="M5181.2 465.6L5210.1 465.6L5195.7 491.1Z" fill="none" stroke="rgba(240,0,210,0.55)" stroke-width="3.0" stroke-linejoin="miter"/>
<path d="M6389.6 -210.1L6418.4 -210.1L6404.0 -184.6Z" fill="none" stroke="rgba(240,0,210,0.55)" stroke-width="3.0" stroke-linejoin="miter"/>
<path d="M7730.0 -655.1L7758.9 -655.1L7744.5 -629.6Z" fill="none" stroke="rgba(240,0,210,0.55)" stroke-width="3.0" stroke-linejoin="miter"/>
<path d="M9429.2 -1017.6L9458.1 -1017.6L9443.7 -992.1Z" fill="none" stroke="rgba(240,0,210,0.55)" stroke-width="3.0" stroke-linejoin="miter"/>
<path d="M11052.9 -1297.8L11081.8 -1297.8L11067.4 -1272.3Z" fill="none" stroke="rgba(240,0,210,0.55)" stroke-width="3.0" stroke-linejoin="miter"/>
<path d="M12884.3 -1512.0L12913.2 -1512.0L12898.7 -1486.5Z" fill="none" stroke="rgba(240,0,210,0.55)" stroke-width="3.0" stroke-linejoin="miter"/>
<path d="M14640.1 -1479.1L14669.0 -1479.1L14654.6 -1453.6Z" fill="none" stroke="rgba(240,0,210,0.55)" stroke-width="3.0" stroke-linejoin="miter"/>
<path d="M16339.3 -1363.7L16368.2 -1363.7L16353.8 -1338.2Z" fill="none" stroke="rgba(240,0,210,0.55)" stroke-width="3.0" stroke-linejoin="miter"/>
<path d="M17906.3 -1133.0L17935.2 -1133.0L17920.8 -1107.5Z" fill="none" stroke="rgba(240,0,210,0.55)" stroke-width="3.0" stroke-linejoin="miter"/>
<path d="M18661.5 -852.8L18690.5 -852.8L18676.0 -827.3Z" fill="none" stroke="rgba(240,0,210,0.55)" stroke-width="3.0" stroke-linejoin="miter"/>
<path d="M19718.8 -391.4L19747.7 -391.4L19733.3 -365.9Z" fill="none" stroke="rgba(240,0,210,0.55)" stroke-width="3.0" stroke-linejoin="miter"/>
<path d="M20020.9 399.6L20049.8 399.6L20035.4 425.1Z" fill="none" stroke="rgba(240,0,210,0.55)" stroke-width="3.0" stroke-linejoin="miter"/>
<path d="M18057.4 531.5L18086.3 531.5L18071.8 557.0Z" fill="none" stroke="rgba(240,0,210,0.55)" stroke-width="3.0" stroke-linejoin="miter"/>
<path d="M1213.9 2813.5L1228.9 2830.0L1213.9 2846.5L1198.9 2830.0Z" fill="#00f458"/>
<path d="M1219.6 2808.6L1234.6 2825.1L1219.6 2841.6L1204.6 2825.1Z" fill="#00f458"/>
<path d="M1228.6 2798.7L1243.6 2815.2L1228.6 2831.7L1213.6 2815.2Z" fill="#00f458"/>
<path d="M1237.5 2789.6L1252.5 2806.1L1237.5 2822.6L1222.5 2806.1Z" fill="#00f458"/>
<path d="M1246.6 2780.7L1261.6 2797.2L1246.6 2813.7L1231.6 2797.2Z" fill="#00f458"/>
<path d="M1258.3 2772.3L1273.3 2788.8L1258.3 2805.3L1243.3 2788.8Z" fill="#00f458"/>
<path d="M1270.5 2764.2L1285.5 2780.7L1270.5 2797.2L1255.5 2780.7Z" fill="#00f458"/>
<path d="M1282.8 2758.3L1297.8 2774.8L1282.8 2791.3L1267.8 2774.8Z" fill="#00f458"/>
<path d="M1295.8 2752.4L1310.8 2768.9L1295.8 2785.4L1280.8 2768.9Z" fill="#00f458"/>
<path d="M1321.3 2741.8L1336.3 2758.3L1321.3 2774.8L1306.3 2758.3Z" fill="#00f458"/>
<path d="M1349.6 2732.9L1364.6 2749.4L1349.6 2765.9L1334.6 2749.4Z" fill="#00f458"/>
<path d="M1383.4 2723.4L1398.4 2739.9L1383.4 2756.4L1368.4 2739.9Z" fill="#00f458"/>
<path d="M1419.3 2720.9L1434.3 2737.4L1419.3 2753.9L1404.3 2737.4Z" fill="#00f458"/>
<path d="M1458.8 2719.4L1473.8 2735.9L1458.8 2752.4L1443.8 2735.9Z" fill="#00f458"/>
<path d="M1485.6 2731.4L1500.6 2747.9L1485.6 2764.4L1470.6 2747.9Z" fill="#00f458"/>
<path d="M1514.1 2743.3L1529.1 2759.8L1514.1 2776.3L1499.1 2759.8Z" fill="#00f458"/>
<path d="M1521.4 2758.3L1536.4 2774.8L1521.4 2791.3L1506.4 2774.8Z" fill="#00f458"/>
<path d="M1512.6 2773.1L1527.6 2789.6L1512.6 2806.1L1497.6 2789.6Z" fill="#00f458"/>
<path d="M1487.1 2792.6L1502.1 2809.1L1487.1 2825.6L1472.1 2809.1Z" fill="#00f458"/>
<path d="M1446.9 2804.6L1461.9 2821.1L1446.9 2837.6L1431.9 2821.1Z" fill="#00f458"/>
<path d="M1408.0 2807.6L1423.0 2824.1L1408.0 2840.6L1393.0 2824.1Z" fill="#00f458"/>
</g>
<line x1="1174.2" y1="2995.5" x2="1174.2" y2="2984.5" stroke="#000" stroke-width="6"/>
<line x1="1174.2" y1="2173.5" x2="1174.2" y2="2184.5" stroke="#000" stroke-width="6"/>
<line x1="1212.0" y1="2995.5" x2="1212.0" y2="2975.5" stroke="#000" stroke-width="6"/>
<line x1="1212.0" y1="2173.5" x2="1212.0" y2="2193.5" stroke="#000" stroke-width="6"/>
<line x1="1249.8" y1="2995.5" x2="1249.8" y2="2984.5" stroke="#000" stroke-width="6"/>
<line x1="1249.8" y1="2173.5" x2="1249.8" y2="2184.5" stroke="#000" stroke-width="6"/>
<line x1="1287.5" y1="2995.5" x2="1287.5" y2="2984.5" stroke="#000" stroke-width="6"/>
<line x1="1287.5" y1="2173.5" x2="1287.5" y2="2184.5" stroke="#000" stroke-width="6"/>
<line x1="1325.3" y1="2995.5" x2="1325.3" y2="2984.5" stroke="#000" stroke-width="6"/>
<line x1="1325.3" y1="2173.5" x2="1325.3" y2="2184.5" stroke="#000" stroke-width="6"/>
<line x1="1363.0" y1="2995.5" x2="1363.0" y2="2984.5" stroke="#000" stroke-width="6"/>
<line x1="1363.0" y1="2173.5" x2="1363.0" y2="2184.5" stroke="#000" stroke-width="6"/>
<line x1="1400.8" y1="2995.5" x2="1400.8" y2="2975.5" stroke="#000" stroke-width="6"/>
<line x1="1400.8" y1="2173.5" x2="1400.8" y2="2193.5" stroke="#000" stroke-width="6"/>
<line x1="1438.6" y1="2995.5" x2="1438.6" y2="2984.5" stroke="#000" stroke-width="6"/>
<line x1="1438.6" y1="2173.5" x2="1438.6" y2="2184.5" stroke="#000" stroke-width="6"/>
<line x1="1476.3" y1="2995.5" x2="1476.3" y2="2984.5" stroke="#000" stroke-width="6"/>
<line x1="1476.3" y1="2173.5" x2="1476.3" y2="2184.5" stroke="#000" stroke-width="6"/>
<line x1="1514.1" y1="2995.5" x2="1514.1" y2="2984.5" stroke="#000" stroke-width="6"/>
<line x1="1514.1" y1="2173.5" x2="1514.1" y2="2184.5" stroke="#000" stroke-width="6"/>
<line x1="1551.8" y1="2995.5" x2="1551.8" y2="2984.5" stroke="#000" stroke-width="6"/>
<line x1="1551.8" y1="2173.5" x2="1551.8" y2="2184.5" stroke="#000" stroke-width="6"/>
<line x1="1589.6" y1="2995.5" x2="1589.6" y2="2975.5" stroke="#000" stroke-width="6"/>
<line x1="1589.6" y1="2173.5" x2="1589.6" y2="2193.5" stroke="#000" stroke-width="6"/>
<line x1="1627.4" y1="2995.5" x2="1627.4" y2="2984.5" stroke="#000" stroke-width="6"/>
<line x1="1627.4" y1="2173.5" x2="1627.4" y2="2184.5" stroke="#000" stroke-width="6"/>
<line x1="1665.1" y1="2995.5" x2="1665.1" y2="2984.5" stroke="#000" stroke-width="6"/>
<line x1="1665.1" y1="2173.5" x2="1665.1" y2="2184.5" stroke="#000" stroke-width="6"/>
<line x1="1702.9" y1="2995.5" x2="1702.9" y2="2984.5" stroke="#000" stroke-width="6"/>
<line x1="1702.9" y1="2173.5" x2="1702.9" y2="2184.5" stroke="#000" stroke-width="6"/>
<line x1="1740.6" y1="2995.5" x2="1740.6" y2="2984.5" stroke="#000" stroke-width="6"/>
<line x1="1740.6" y1="2173.5" x2="1740.6" y2="2184.5" stroke="#000" stroke-width="6"/>
<line x1="1778.4" y1="2995.5" x2="1778.4" y2="2975.5" stroke="#000" stroke-width="6"/>
<line x1="1778.4" y1="2173.5" x2="1778.4" y2="2193.5" stroke="#000" stroke-width="6"/>
<line x1="1816.2" y1="2995.5" x2="1816.2" y2="2984.5" stroke="#000" stroke-width="6"/>
<line x1="1816.2" y1="2173.5" x2="1816.2" y2="2184.5" stroke="#000" stroke-width="6"/>
<line x1="1853.9" y1="2995.5" x2="1853.9" y2="2984.5" stroke="#000" stroke-width="6"/>
<line x1="1853.9" y1="2173.5" x2="1853.9" y2="2184.5" stroke="#000" stroke-width="6"/>
<line x1="1891.7" y1="2995.5" x2="1891.7" y2="2984.5" stroke="#000" stroke-width="6"/>
<line x1="1891.7" y1="2173.5" x2="1891.7" y2="2184.5" stroke="#000" stroke-width="6"/>
<line x1="1929.4" y1="2995.5" x2="1929.4" y2="2984.5" stroke="#000" stroke-width="6"/>
<line x1="1929.4" y1="2173.5" x2="1929.4" y2="2184.5" stroke="#000" stroke-width="6"/>
<line x1="1967.2" y1="2995.5" x2="1967.2" y2="2975.5" stroke="#000" stroke-width="6"/>
<line x1="1967.2" y1="2173.5" x2="1967.2" y2="2193.5" stroke="#000" stroke-width="6"/>
<line x1="1156.5" y1="2912.4" x2="1167.5" y2="2912.4" stroke="#000" stroke-width="6"/>
<line x1="1968.5" y1="2912.4" x2="1957.5" y2="2912.4" stroke="#000" stroke-width="6"/>
<line x1="1156.5" y1="2830.0" x2="1176.5" y2="2830.0" stroke="#000" stroke-width="6"/>
<line x1="1968.5" y1="2830.0" x2="1948.5" y2="2830.0" stroke="#000" stroke-width="6"/>
<line x1="1156.5" y1="2747.6" x2="1167.5" y2="2747.6" stroke="#000" stroke-width="6"/>
<line x1="1968.5" y1="2747.6" x2="1957.5" y2="2747.6" stroke="#000" stroke-width="6"/>
<line x1="1156.5" y1="2665.2" x2="1176.5" y2="2665.2" stroke="#000" stroke-width="6"/>
<line x1="1968.5" y1="2665.2" x2="1948.5" y2="2665.2" stroke="#000" stroke-width="6"/>
<line x1="1156.5" y1="2582.8" x2="1167.5" y2="2582.8" stroke="#000" stroke-width="6"/>
<line x1="1968.5" y1="2582.8" x2="1957.5" y2="2582.8" stroke="#000" stroke-width="6"/>
<line x1="1156.5" y1="2500.4" x2="1176.5" y2="2500.4" stroke="#000" stroke-width="6"/>
<line x1="1968.5" y1="2500.4" x2="1948.5" y2="2500.4" stroke="#000" stroke-width="6"/>
<line x1="1156.5" y1="2418.0" x2="1167.5" y2="2418.0" stroke="#000" stroke-width="6"/>
<line x1="1968.5" y1="2418.0" x2="1957.5" y2="2418.0" stroke="#000" stroke-width="6"/>
<line x1="1156.5" y1="2335.6" x2="1176.5" y2="2335.6" stroke="#000" stroke-width="6"/>
<line x1="1968.5" y1="2335.6" x2="1948.5" y2="2335.6" stroke="#000" stroke-width="6"/>
<line x1="1156.5" y1="2253.2" x2="1167.5" y2="2253.2" stroke="#000" stroke-width="6"/>
<line x1="1968.5" y1="2253.2" x2="1957.5" y2="2253.2" stroke="#000" stroke-width="6"/>
<rect x="1156.5" y="2173.5" width="812.0" height="822.0" fill="none" stroke="#000" stroke-width="6.5"/>
<rect x="1567" y="2642.5" width="401.5" height="353.0" fill="#fff" stroke="#a0a0a0" stroke-width="3"/>
<rect x="1609.2" y="2660.1" width="28.0" height="28.0" fill="#000"/>
<text transform="translate(1684.9 2687.2) scale(1 1.0407)" font-size="44.4">Epoxy</text>
<circle cx="1623.2" cy="2732.0" r="13.0" fill="none" stroke="rgba(235,0,25,0.55)" stroke-width="3.0"/>
<text transform="translate(1684.9 2746.0) scale(1 1.0407)" font-size="44.4">GN<tspan font-size="26.5" font-weight="normal" dy="16.82" dx="1">0.01</tspan><tspan dy="-16.82" dx="2.3">-Epoxy</tspan></text>
<path d="M1623.2 2784.1L1640.7 2814.1L1605.7 2814.1Z" fill="rgba(0,0,245,0.61)"/>
<text transform="translate(1684.9 2816.6) scale(1 1.0407)" font-size="44.4">GN<tspan font-size="26.5" font-weight="normal" dy="16.82" dx="1">0.05</tspan><tspan dy="-16.82" dx="2.3">-Epoxy</tspan></text>
<path d="M1608.2 2864.2L1638.2 2864.2L1623.2 2891.8Z" fill="none" stroke="rgba(240,0,210,0.55)" stroke-width="3.0" stroke-linejoin="miter"/>
<text transform="translate(1684.9 2887.2) scale(1 1.0407)" font-size="44.4">GN<tspan font-size="26.5" font-weight="normal" dy="16.82" dx="1">0.1</tspan><tspan dy="-16.82" dx="2.3">-Epoxy</tspan></text>
<path d="M1623.2 2928.1L1640.7 2945.6L1623.2 2963.1L1605.7 2945.6Z" fill="#00f458"/>
<text transform="translate(1684.9 2957.7) scale(1 1.0407)" font-size="44.4">GN<tspan font-size="26.5" font-weight="normal" dy="16.82" dx="1">0.5</tspan><tspan dy="-16.82" dx="2.3">-Epoxy</tspan></text>
<rect x="1156.5" y="2173.5" width="812.0" height="822.0" fill="none" stroke="#000" stroke-width="6.5"/>
<text transform="translate(1212.0 3046.5) scale(1 1.05)" font-size="48" text-anchor="middle" font-weight="normal" stroke="#000" stroke-width="1.6">0.0</text>
<text transform="translate(1400.8 3046.5) scale(1 1.05)" font-size="48" text-anchor="middle" font-weight="normal" stroke="#000" stroke-width="1.6">0.1</text>
<text transform="translate(1589.6 3046.5) scale(1 1.05)" font-size="48" text-anchor="middle" font-weight="normal" stroke="#000" stroke-width="1.6">0.2</text>
<text transform="translate(1778.4 3046.5) scale(1 1.05)" font-size="48" text-anchor="middle" font-weight="normal" stroke="#000" stroke-width="1.6">0.3</text>
<text transform="translate(1967.2 3046.5) scale(1 1.05)" font-size="48" text-anchor="middle" font-weight="normal" stroke="#000" stroke-width="1.6">0.4</text>
<text transform="translate(1139.5 3008.3) scale(1 1.05)" font-size="48" text-anchor="end" font-weight="normal" stroke="#000" stroke-width="1.6">-0.1</text>
<text transform="translate(1139.5 2843.5) scale(1 1.05)" font-size="48" text-anchor="end" font-weight="normal" stroke="#000" stroke-width="1.6">0.0</text>
<text transform="translate(1139.5 2678.7) scale(1 1.05)" font-size="48" text-anchor="end" font-weight="normal" stroke="#000" stroke-width="1.6">0.1</text>
<text transform="translate(1139.5 2513.9) scale(1 1.05)" font-size="48" text-anchor="end" font-weight="normal" stroke="#000" stroke-width="1.6">0.2</text>
<text transform="translate(1139.5 2349.1) scale(1 1.05)" font-size="48" text-anchor="end" font-weight="normal" stroke="#000" stroke-width="1.6">0.3</text>
<text transform="translate(1139.5 2184.3) scale(1 1.05)" font-size="48" text-anchor="end" font-weight="normal" stroke="#000" stroke-width="1.6">0.4</text>
<text x="1495.5" y="2294" font-family="'Liberation Serif', 'Times New Roman', serif" font-size="140">(c)</text>
<g clip-path="url(#cbx)">
<rect x="490.0" y="3240.0" width="34.0" height="34.0" fill="#000"/>
<rect x="491.5" y="3236.0" width="34.0" height="34.0" fill="#000"/>
<rect x="492.4" y="3233.7" width="34.0" height="34.0" fill="#000"/>
<rect x="494.8" y="3230.1" width="34.0" height="34.0" fill="#000"/>
<rect x="499.6" y="3225.7" width="34.0" height="34.0" fill="#000"/>
<rect x="507.6" y="3222.6" width="34.0" height="34.0" fill="#000"/>
<rect x="521.7" y="3223.4" width="34.0" height="34.0" fill="#000"/>
<rect x="537.9" y="3226.0" width="34.0" height="34.0" fill="#000"/>
<rect x="553.4" y="3230.0" width="34.0" height="34.0" fill="#000"/>
<rect x="567.4" y="3233.3" width="34.0" height="34.0" fill="#000"/>
<rect x="579.4" y="3236.7" width="34.0" height="34.0" fill="#000"/>
<rect x="583.6" y="3239.3" width="34.0" height="34.0" fill="#000"/>
<rect x="584.3" y="3226.7" width="34.0" height="34.0" fill="#000"/>
<circle cx="507.0" cy="3257.0" r="14.0" fill="none" stroke="rgba(235,0,25,0.55)" stroke-width="3.0"/>
<circle cx="507.2" cy="3256.3" r="14.0" fill="none" stroke="rgba(235,0,25,0.55)" stroke-width="3.0"/>
<circle cx="507.6" cy="3255.3" r="14.0" fill="none" stroke="rgba(235,0,25,0.55)" stroke-width="3.0"/>
<circle cx="508.0" cy="3254.0" r="14.0" fill="none" stroke="rgba(235,0,25,0.55)" stroke-width="3.0"/>
<circle cx="508.5" cy="3252.4" r="14.0" fill="none" stroke="rgba(235,0,25,0.55)" stroke-width="3.0"/>
<circle cx="509.1" cy="3249.2" r="14.0" fill="none" stroke="rgba(235,0,25,0.55)" stroke-width="3.0"/>
<circle cx="510.6" cy="3244.0" r="14.0" fill="none" stroke="rgba(235,0,25,0.55)" stroke-width="3.0"/>
<circle cx="514.2" cy="3235.9" r="14.0" fill="none" stroke="rgba(235,0,25,0.55)" stroke-width="3.0"/>
<circle cx="524.6" cy="3220.4" r="14.0" fill="none" stroke="rgba(235,0,25,0.55)" stroke-width="3.0"/>
<circle cx="538.7" cy="3209.1" r="14.0" fill="none" stroke="rgba(235,0,25,0.55)" stroke-width="3.0"/>
<circle cx="556.3" cy="3200.4" r="14.0" fill="none" stroke="rgba(235,0,25,0.55)" stroke-width="3.0"/>
<circle cx="573.9" cy="3198.4" r="14.0" fill="none" stroke="rgba(235,0,25,0.55)" stroke-width="3.0"/>
<circle cx="591.5" cy="3201.8" r="14.0" fill="none" stroke="rgba(235,0,25,0.55)" stroke-width="3.0"/>
<circle cx="602.7" cy="3205.1" r="14.0" fill="none" stroke="rgba(235,0,25,0.55)" stroke-width="3.0"/>
<circle cx="613.3" cy="3214.4" r="14.0" fill="none" stroke="rgba(235,0,25,0.55)" stroke-width="3.0"/>
<circle cx="629.5" cy="3225.1" r="14.0" fill="none" stroke="rgba(235,0,25,0.55)" stroke-width="3.0"/>
<circle cx="637.2" cy="3230.4" r="14.0" fill="none" stroke="rgba(235,0,25,0.55)" stroke-width="3.0"/>
<circle cx="645.0" cy="3234.4" r="14.0" fill="none" stroke="rgba(235,0,25,0.55)" stroke-width="3.0"/>
<circle cx="651.3" cy="3233.0" r="14.0" fill="none" stroke="rgba(235,0,25,0.55)" stroke-width="3.0"/>
<circle cx="658.4" cy="3229.7" r="14.0" fill="none" stroke="rgba(235,0,25,0.55)" stroke-width="3.0"/>
<circle cx="665.4" cy="3227.1" r="14.0" fill="none" stroke="rgba(235,0,25,0.55)" stroke-width="3.0"/>
<circle cx="671.7" cy="3223.1" r="14.0" fill="none" stroke="rgba(235,0,25,0.55)" stroke-width="3.0"/>
<circle cx="676.0" cy="3215.7" r="14.0" fill="none" stroke="rgba(235,0,25,0.55)" stroke-width="3.0"/>
<circle cx="680.9" cy="3207.1" r="14.0" fill="none" stroke="rgba(235,0,25,0.55)" stroke-width="3.0"/>
<circle cx="690.0" cy="3198.4" r="14.0" fill="none" stroke="rgba(235,0,25,0.55)" stroke-width="3.0"/>
<circle cx="698.5" cy="3189.8" r="14.0" fill="none" stroke="rgba(235,0,25,0.55)" stroke-width="3.0"/>
<circle cx="711.2" cy="3177.1" r="14.0" fill="none" stroke="rgba(235,0,25,0.55)" stroke-width="3.0"/>
<circle cx="728.1" cy="3168.5" r="14.0" fill="none" stroke="rgba(235,0,25,0.55)" stroke-width="3.0"/>
<circle cx="752.7" cy="3193.8" r="14.0" fill="none" stroke="rgba(235,0,25,0.55)" stroke-width="3.0"/>
<circle cx="768.2" cy="3209.7" r="14.0" fill="none" stroke="rgba(235,0,25,0.55)" stroke-width="3.0"/>
<circle cx="781.6" cy="3223.1" r="14.0" fill="none" stroke="rgba(235,0,25,0.55)" stroke-width="3.0"/>
<circle cx="783.7" cy="3236.4" r="14.0" fill="none" stroke="rgba(235,0,25,0.55)" stroke-width="3.0"/>
<circle cx="786.5" cy="3249.7" r="14.0" fill="none" stroke="rgba(235,0,25,0.55)" stroke-width="3.0"/>
<circle cx="790.7" cy="3263.7" r="14.0" fill="none" stroke="rgba(235,0,25,0.55)" stroke-width="3.0"/>
<circle cx="811.1" cy="3272.3" r="14.0" fill="none" stroke="rgba(235,0,25,0.55)" stroke-width="3.0"/>
<path d="M507.1 3240.5L524.1 3271.5L490.1 3271.5Z" fill="rgba(0,0,245,0.61)"/>
<path d="M507.3 3239.5L524.3 3270.5L490.3 3270.5Z" fill="rgba(0,0,245,0.61)"/>
<path d="M507.4 3238.1L524.4 3269.1L490.4 3269.1Z" fill="rgba(0,0,245,0.61)"/>
<path d="M507.6 3236.1L524.6 3267.1L490.6 3267.1Z" fill="rgba(0,0,245,0.61)"/>
<path d="M509.8 3232.8L526.8 3263.8L492.8 3263.8Z" fill="rgba(0,0,245,0.61)"/>
<path d="M510.5 3226.8L527.5 3257.8L493.5 3257.8Z" fill="rgba(0,0,245,0.61)"/>
<path d="M512.3 3217.0L529.3 3248.0L495.3 3248.0Z" fill="rgba(0,0,245,0.61)"/>
<path d="M514.0 3208.2L531.0 3239.2L497.0 3239.2Z" fill="rgba(0,0,245,0.61)"/>
<path d="M517.6 3201.6L534.6 3232.6L500.6 3232.6Z" fill="rgba(0,0,245,0.61)"/>
<path d="M521.1 3193.6L538.1 3224.6L504.1 3224.6Z" fill="rgba(0,0,245,0.61)"/>
<path d="M549.2 3135.0L566.2 3166.0L532.2 3166.0Z" fill="rgba(0,0,245,0.61)"/>
<path d="M573.9 3073.1L590.9 3104.1L556.9 3104.1Z" fill="rgba(0,0,245,0.61)"/>
<path d="M618.9 2982.0L635.9 3013.0L601.9 3013.0Z" fill="rgba(0,0,245,0.61)"/>
<path d="M700.6 2852.8L717.6 2883.8L683.6 2883.8Z" fill="rgba(0,0,245,0.61)"/>
<path d="M909.0 2719.7L926.0 2750.7L892.0 2750.7Z" fill="rgba(0,0,245,0.61)"/>
<path d="M1125.1 2506.1L1142.1 2537.1L1108.1 2537.1Z" fill="rgba(0,0,245,0.61)"/>
<path d="M1423.6 2281.8L1440.6 2312.8L1406.6 2312.8Z" fill="rgba(0,0,245,0.61)"/>
<path d="M1824.9 2038.9L1841.9 2069.9L1807.9 2069.9Z" fill="rgba(0,0,245,0.61)"/>
<path d="M2310.6 1804.7L2327.6 1835.7L2293.6 1835.7Z" fill="rgba(0,0,245,0.61)"/>
<path d="M2883.7 1549.1L2900.7 1580.1L2866.7 1580.1Z" fill="rgba(0,0,245,0.61)"/>
<path d="M3556.7 1295.6L3573.7 1326.6L3539.7 1326.6Z" fill="rgba(0,0,245,0.61)"/>
<path d="M4371.3 1060.7L4388.3 1091.7L4354.3 1091.7Z" fill="rgba(0,0,245,0.61)"/>
<path d="M5332.2 902.3L5349.2 933.3L5315.2 933.3Z" fill="rgba(0,0,245,0.61)"/>
<path d="M6355.1 900.9L6372.1 931.9L6338.1 931.9Z" fill="rgba(0,0,245,0.61)"/>
<path d="M7343.5 1071.3L7360.5 1102.3L7326.5 1102.3Z" fill="rgba(0,0,245,0.61)"/>
<path d="M8190.5 1363.5L8207.5 1394.5L8173.5 1394.5Z" fill="rgba(0,0,245,0.61)"/>
<path d="M8824.1 1701.5L8841.1 1732.5L8807.1 1732.5Z" fill="rgba(0,0,245,0.61)"/>
<path d="M9183.1 2053.6L9200.1 2084.6L9166.1 2084.6Z" fill="rgba(0,0,245,0.61)"/>
<path d="M9326.7 2313.1L9343.7 2344.1L9309.7 2344.1Z" fill="rgba(0,0,245,0.61)"/>
<path d="M9390.8 2497.5L9407.8 2528.5L9373.8 2528.5Z" fill="rgba(0,0,245,0.61)"/>
<path d="M9401.3 2647.9L9418.3 2678.9L9384.3 2678.9Z" fill="rgba(0,0,245,0.61)"/>
<path d="M9330.9 2721.1L9347.9 2752.1L9313.9 2752.1Z" fill="rgba(0,0,245,0.61)"/>
<path d="M492.1 3242.8L522.0 3242.8L507.0 3271.2Z" fill="none" stroke="rgba(240,0,210,0.55)" stroke-width="3.0" stroke-linejoin="miter"/>
<path d="M492.3 3242.2L522.2 3242.2L507.2 3270.7Z" fill="none" stroke="rgba(240,0,210,0.55)" stroke-width="3.0" stroke-linejoin="miter"/>
<path d="M492.5 3241.6L522.4 3241.6L507.4 3270.1Z" fill="none" stroke="rgba(240,0,210,0.55)" stroke-width="3.0" stroke-linejoin="miter"/>
<path d="M492.7 3241.0L522.6 3241.0L507.6 3269.5Z" fill="none" stroke="rgba(240,0,210,0.55)" stroke-width="3.0" stroke-linejoin="miter"/>
<path d="M493.0 3240.4L522.9 3240.4L507.9 3268.9Z" fill="none" stroke="rgba(240,0,210,0.55)" stroke-width="3.0" stroke-linejoin="miter"/>
<path d="M493.7 3239.4L523.6 3239.4L508.6 3267.9Z" fill="none" stroke="rgba(240,0,210,0.55)" stroke-width="3.0" stroke-linejoin="miter"/>
<path d="M494.7 3237.3L524.6 3237.3L509.7 3265.8Z" fill="none" stroke="rgba(240,0,210,0.55)" stroke-width="3.0" stroke-linejoin="miter"/>
<path d="M496.8 3234.5L526.7 3234.5L511.7 3263.0Z" fill="none" stroke="rgba(240,0,210,0.55)" stroke-width="3.0" stroke-linejoin="miter"/>
<path d="M500.6 3231.4L530.5 3231.4L515.6 3259.9Z" fill="none" stroke="rgba(240,0,210,0.55)" stroke-width="3.0" stroke-linejoin="miter"/>
<path d="M506.1 3229.0L536.0 3229.0L521.1 3257.5Z" fill="none" stroke="rgba(240,0,210,0.55)" stroke-width="3.0" stroke-linejoin="miter"/>
<path d="M513.8 3229.7L543.7 3229.7L528.7 3258.2Z" fill="none" stroke="rgba(240,0,210,0.55)" stroke-width="3.0" stroke-linejoin="miter"/>
<path d="M518.5 3227.9L548.4 3227.9L533.4 3256.4Z" fill="none" stroke="rgba(240,0,210,0.55)" stroke-width="3.0" stroke-linejoin="miter"/>
<path d="M525.5 3222.5L555.4 3222.5L540.5 3251.0Z" fill="none" stroke="rgba(240,0,210,0.55)" stroke-width="3.0" stroke-linejoin="miter"/>
<path d="M532.6 3217.0L562.5 3217.0L547.5 3245.5Z" fill="none" stroke="rgba(240,0,210,0.55)" stroke-width="3.0" stroke-linejoin="miter"/>
<path d="M539.6 3211.6L569.5 3211.6L554.6 3240.1Z" fill="none" stroke="rgba(240,0,210,0.55)" stroke-width="3.0" stroke-linejoin="miter"/>
<path d="M546.6 3206.1L576.5 3206.1L561.6 3234.6Z" fill="none" stroke="rgba(240,0,210,0.55)" stroke-width="3.0" stroke-linejoin="miter"/>
<path d="M553.7 3200.6L583.6 3200.6L568.6 3229.1Z" fill="none" stroke="rgba(240,0,210,0.55)" stroke-width="3.0" stroke-linejoin="miter"/>
<path d="M560.7 3195.2L590.6 3195.2L575.7 3223.7Z" fill="none" stroke="rgba(240,0,210,0.55)" stroke-width="3.0" stroke-linejoin="miter"/>
<path d="M567.8 3189.7L597.7 3189.7L582.7 3218.2Z" fill="none" stroke="rgba(240,0,210,0.55)" stroke-width="3.0" stroke-linejoin="miter"/>
<path d="M574.8 3184.3L604.7 3184.3L589.8 3212.8Z" fill="none" stroke="rgba(240,0,210,0.55)" stroke-width="3.0" stroke-linejoin="miter"/>
<path d="M581.8 3178.8L611.7 3178.8L596.8 3207.3Z" fill="none" stroke="rgba(240,0,210,0.55)" stroke-width="3.0" stroke-linejoin="miter"/>
<path d="M588.9 3173.4L618.8 3173.4L603.8 3201.9Z" fill="none" stroke="rgba(240,0,210,0.55)" stroke-width="3.0" stroke-linejoin="miter"/>
<path d="M595.9 3167.9L625.8 3167.9L610.9 3196.4Z" fill="none" stroke="rgba(240,0,210,0.55)" stroke-width="3.0" stroke-linejoin="miter"/>
<path d="M603.0 3164.6L632.9 3164.6L617.9 3193.1Z" fill="none" stroke="rgba(240,0,210,0.55)" stroke-width="3.0" stroke-linejoin="miter"/>
<path d="M606.8 3161.8L636.7 3161.8L621.8 3190.3Z" fill="none" stroke="rgba(240,0,210,0.55)" stroke-width="3.0" stroke-linejoin="miter"/>
<path d="M640.6 3147.8L670.5 3147.8L655.5 3176.3Z" fill="none" stroke="rgba(240,0,210,0.55)" stroke-width="3.0" stroke-linejoin="miter"/>
<path d="M685.6 3120.5L715.6 3120.5L700.6 3149.0Z" fill="none" stroke="rgba(240,0,210,0.55)" stroke-width="3.0" stroke-linejoin="miter"/>
<path d="M735.6 3102.5L765.5 3102.5L750.6 3131.0Z" fill="none" stroke="rgba(240,0,210,0.55)" stroke-width="3.0" stroke-linejoin="miter"/>
<path d="M799.0 3087.9L828.9 3087.9L813.9 3116.4Z" fill="none" stroke="rgba(240,0,210,0.55)" stroke-width="3.0" stroke-linejoin="miter"/>
<path d="M859.5 3076.6L889.4 3076.6L874.5 3105.1Z" fill="none" stroke="rgba(240,0,210,0.55)" stroke-width="3.0" stroke-linejoin="miter"/>
<path d="M927.8 3067.9L957.7 3067.9L942.8 3096.4Z" fill="none" stroke="rgba(240,0,210,0.55)" stroke-width="3.0" stroke-linejoin="miter"/>
<path d="M993.3 3069.3L1023.2 3069.3L1008.2 3097.8Z" fill="none" stroke="rgba(240,0,210,0.55)" stroke-width="3.0" stroke-linejoin="miter"/>
<path d="M1056.7 3073.9L1086.6 3073.9L1071.6 3102.4Z" fill="none" stroke="rgba(240,0,210,0.55)" stroke-width="3.0" stroke-linejoin="miter"/>
<path d="M1115.1 3083.2L1145.0 3083.2L1130.0 3111.7Z" fill="none" stroke="rgba(240,0,210,0.55)" stroke-width="3.0" stroke-linejoin="miter"/>
<path d="M1143.2 3094.5L1173.2 3094.5L1158.2 3123.0Z" fill="none" stroke="rgba(240,0,210,0.55)" stroke-width="3.0" stroke-linejoin="miter"/>
<path d="M1182.7 3113.2L1212.6 3113.2L1197.6 3141.7Z" fill="none" stroke="rgba(240,0,210,0.55)" stroke-width="3.0" stroke-linejoin="miter"/>
<path d="M1193.9 3145.1L1223.8 3145.1L1208.9 3173.6Z" fill="none" stroke="rgba(240,0,210,0.55)" stroke-width="3.0" stroke-linejoin="miter"/>
<path d="M1120.7 3150.4L1150.6 3150.4L1135.7 3178.9Z" fill="none" stroke="rgba(240,0,210,0.55)" stroke-width="3.0" stroke-linejoin="miter"/>
<path d="M507.1 3238.0L526.1 3257.0L507.1 3276.0L488.1 3257.0Z" fill="#00f458"/>
<path d="M507.3 3237.8L526.3 3256.8L507.3 3275.8L488.3 3256.8Z" fill="#00f458"/>
<path d="M507.6 3237.4L526.6 3256.4L507.6 3275.4L488.6 3256.4Z" fill="#00f458"/>
<path d="M508.0 3237.0L527.0 3256.0L508.0 3275.0L489.0 3256.0Z" fill="#00f458"/>
<path d="M508.3 3236.7L527.3 3255.7L508.3 3274.7L489.3 3255.7Z" fill="#00f458"/>
<path d="M508.7 3236.3L527.7 3255.3L508.7 3274.3L489.7 3255.3Z" fill="#00f458"/>
<path d="M509.2 3236.0L528.2 3255.0L509.2 3274.0L490.2 3255.0Z" fill="#00f458"/>
<path d="M509.6 3235.8L528.6 3254.8L509.6 3273.8L490.6 3254.8Z" fill="#00f458"/>
<path d="M510.1 3235.5L529.1 3254.5L510.1 3273.5L491.1 3254.5Z" fill="#00f458"/>
<path d="M511.1 3235.1L530.1 3254.1L511.1 3273.1L492.1 3254.1Z" fill="#00f458"/>
<path d="M512.1 3234.7L531.1 3253.7L512.1 3272.7L493.1 3253.7Z" fill="#00f458"/>
<path d="M513.4 3234.4L532.4 3253.4L513.4 3272.4L494.4 3253.4Z" fill="#00f458"/>
<path d="M514.7 3234.3L533.7 3253.3L514.7 3272.3L495.7 3253.3Z" fill="#00f458"/>
<path d="M516.2 3234.2L535.2 3253.2L516.2 3272.2L497.2 3253.2Z" fill="#00f458"/>
<path d="M517.2 3234.7L536.2 3253.7L517.2 3272.7L498.2 3253.7Z" fill="#00f458"/>
<path d="M518.3 3235.2L537.3 3254.2L518.3 3273.2L499.3 3254.2Z" fill="#00f458"/>
<path d="M518.5 3235.8L537.5 3254.8L518.5 3273.8L499.5 3254.8Z" fill="#00f458"/>
<path d="M518.2 3236.4L537.2 3255.4L518.2 3274.4L499.2 3255.4Z" fill="#00f458"/>
<path d="M517.3 3237.2L536.3 3256.2L517.3 3275.2L498.3 3256.2Z" fill="#00f458"/>
<path d="M515.8 3237.6L534.8 3256.6L515.8 3275.6L496.8 3256.6Z" fill="#00f458"/>
<path d="M514.3 3237.8L533.3 3256.8L514.3 3275.8L495.3 3256.8Z" fill="#00f458"/>
</g>
<rect x="356.5" y="1200.8" width="314.8" height="275.7" fill="none" stroke="#ff0000" stroke-width="19"/>
<rect x="493.3" y="1485" width="38.3" height="572" fill="#ff0000"/>
<path d="M454.5 2056.4 L570.4 2056.4 L512 2131.5 Z" fill="#ff0000"/>
<rect x="443.5" y="3183.5" width="138.5" height="132.4" fill="none" stroke="#ff0000" stroke-width="16.5"/>
<path d="M556.9 3175.2 L981.9 2764.8 L968.8 2742.8 L1038.3 2735.9 L1025.5 2804.2 L1002.9 2786.8 L577.9 3197.2 Z" fill="#ff0000"/>
</svg></body></html>
